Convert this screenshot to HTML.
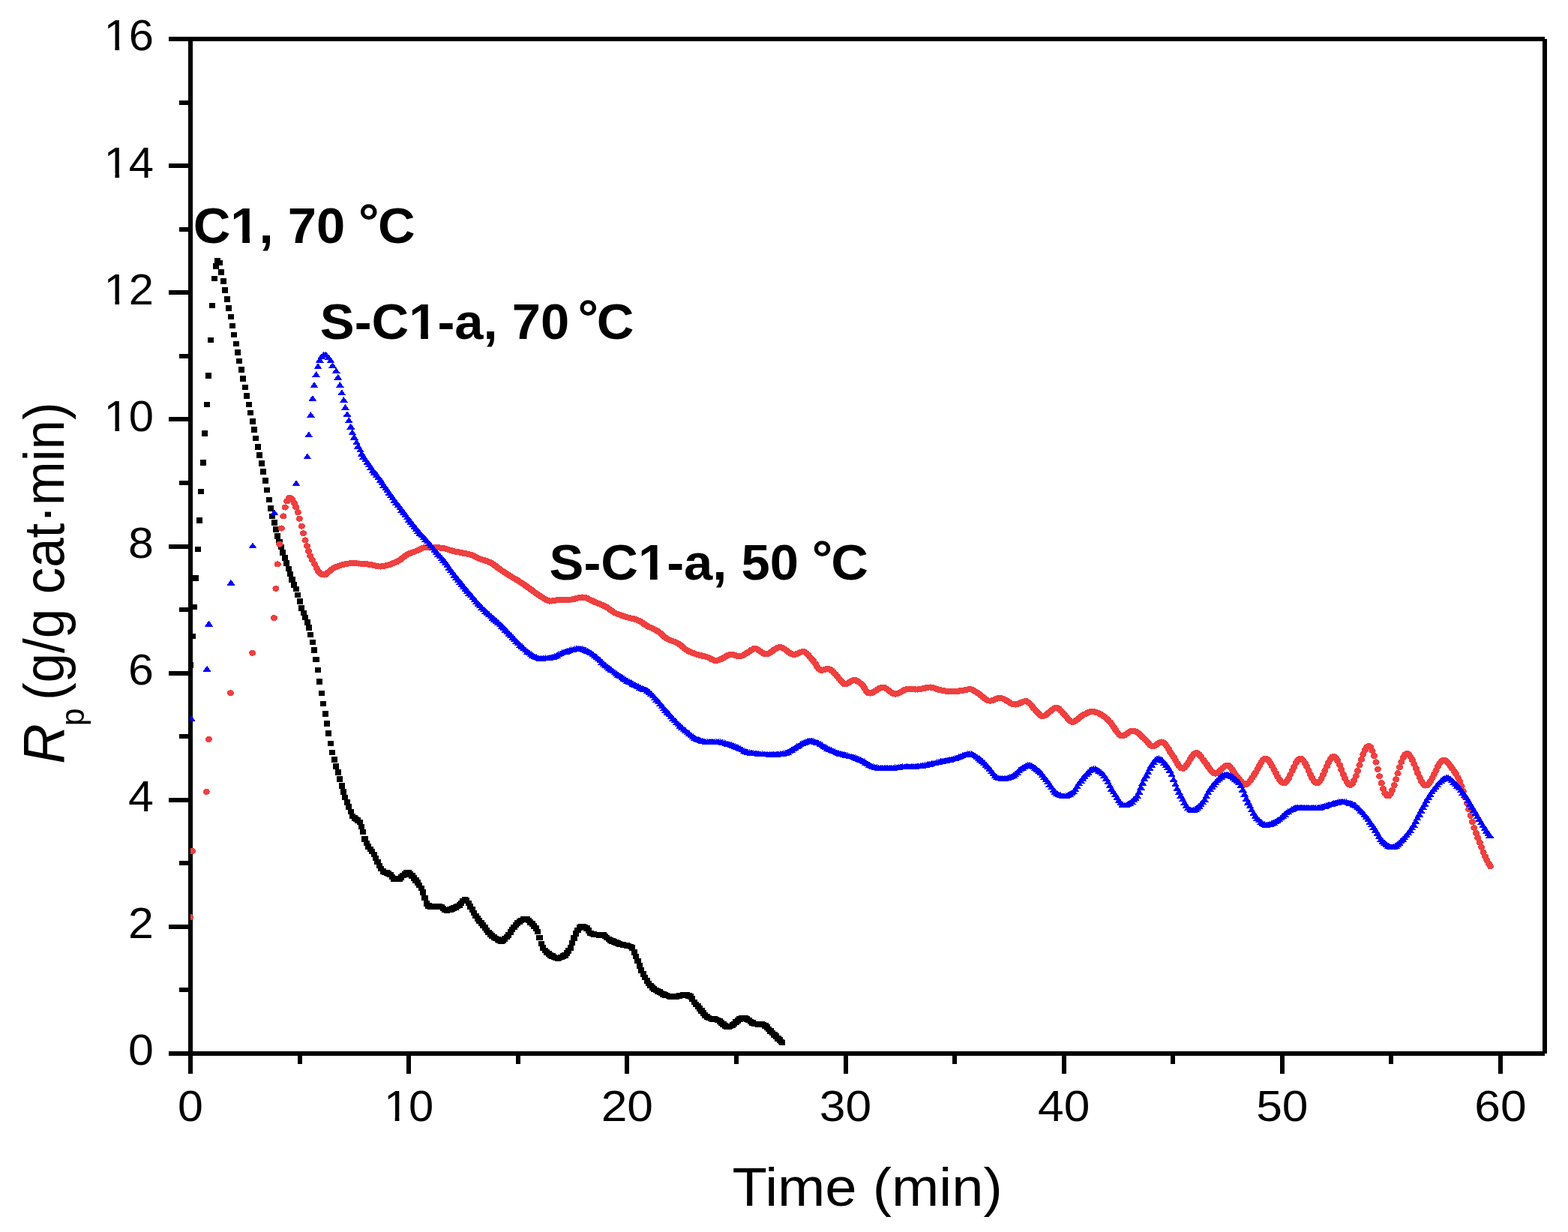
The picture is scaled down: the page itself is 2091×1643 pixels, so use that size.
<!DOCTYPE html>
<html><head><meta charset="utf-8"><title>Rp vs Time</title>
<style>
html,body{margin:0;padding:0;background:#fff;}
svg{display:block;}
text{font-family:"Liberation Sans",Arial,sans-serif;fill:#000;}
</style></head><body>
<svg xmlns="http://www.w3.org/2000/svg" width="2091" height="1643" viewBox="0 0 2091 1643">
<rect width="2091" height="1643" fill="#fff"/>
<path d="M225 52H2060M2060 52V1405M225 1405H2060M254 52V1432M225 1405H254M239 1320.4H254M225 1235.9H254M239 1151.3H254M225 1066.8H254M239 982.2H254M225 897.6H254M239 813.1H254M225 728.5H254M239 643.9H254M225 559.4H254M239 474.8H254M225 390.2H254M239 305.7H254M225 221.1H254M239 136.6H254M225 52H254M254 1405V1432M399.6 1405V1419M545.2 1405V1432M690.8 1405V1419M836.3 1405V1432M981.9 1405V1419M1127.5 1405V1432M1273.1 1405V1419M1418.7 1405V1432M1564.2 1405V1419M1709.8 1405V1432M1855.4 1405V1419M2001 1405V1432" stroke="#000" stroke-width="6" fill="none" shape-rendering="crispEdges"/>
<g font-size="58" fill="#fff">
<g transform="translate(171.1 1420.4) scale(1.05 1)"><text>0</text></g><g transform="translate(171.1 1251.3) scale(1.05 1)"><text>2</text></g><g transform="translate(171.1 1082.2) scale(1.05 1)"><text>4</text></g><g transform="translate(171.1 913) scale(1.05 1)"><text>6</text></g><g transform="translate(171.1 743.9) scale(1.05 1)"><text>8</text></g><g transform="translate(138.6 574.8) scale(1.03 1)"><text>10</text><rect x="3.2" y="-5.5" width="11.2" height="6.7"/><rect x="19.9" y="-5.5" width="10.9" height="6.7"/></g><g transform="translate(138.6 405.6) scale(1.03 1)"><text>12</text><rect x="3.2" y="-5.5" width="11.2" height="6.7"/><rect x="19.9" y="-5.5" width="10.9" height="6.7"/></g><g transform="translate(138.6 236.5) scale(1.03 1)"><text>14</text><rect x="3.2" y="-5.5" width="11.2" height="6.7"/><rect x="19.9" y="-5.5" width="10.9" height="6.7"/></g><g transform="translate(138.6 67.4) scale(1.03 1)"><text>16</text><rect x="3.2" y="-5.5" width="11.2" height="6.7"/><rect x="19.9" y="-5.5" width="10.9" height="6.7"/></g>
<g transform="translate(237.1 1495) scale(1.05 1)"><text>0</text></g><g transform="translate(511.9 1495) scale(1.03 1)"><text>10</text><rect x="3.2" y="-5.5" width="11.2" height="6.7"/><rect x="19.9" y="-5.5" width="10.9" height="6.7"/></g><g transform="translate(801.7 1495) scale(1.075 1)"><text>20</text></g><g transform="translate(1092.8 1495) scale(1.075 1)"><text>30</text></g><g transform="translate(1384 1495) scale(1.075 1)"><text>40</text></g><g transform="translate(1675.2 1495) scale(1.075 1)"><text>50</text></g><g transform="translate(1966.3 1495) scale(1.075 1)"><text>60</text></g>
</g>
<text transform="translate(976.6 1607.5) scale(1.048 1)" font-size="72.5">Time (min)</text>
<g transform="rotate(-90)">
<text transform="translate(-1016 85) scale(0.95 1)" font-size="78" font-style="italic" x="-3">R</text>
</g>
<text transform="translate(112 967.9) rotate(-90) scale(0.96 1)" font-size="44">p</text>
<text transform="translate(85 934) rotate(-90) scale(0.926 1)" font-size="76.5">(g/g cat·min)</text>
<defs><clipPath id="pa"><rect x="254" y="52" width="1806" height="1353"/></clipPath></defs>
<g clip-path="url(#pa)" shape-rendering="crispEdges">
<path d="M250.1 883.4h8.2v7.6h-8.2zM252.9 844.5h8.2v7.6h-8.2zM254.9 805.8h8.2v7.6h-8.2zM256.9 767.2h8.2v7.6h-8.2zM259.9 728.7h8.2v7.6h-8.2zM261.9 690.2h8.2v7.6h-8.2zM263.9 651.8h8.2v7.6h-8.2zM266.8 613.2h8.2v7.6h-8.2zM268.8 574.2h8.2v7.6h-8.2zM271.9 535.8h8.2v7.6h-8.2zM273.8 497h8.2v7.6h-8.2zM276.9 449.7h8.2v7.6h-8.2zM278.9 403.6h8.2v7.6h-8.2zM281.8 367.6h8.2v7.6h-8.2zM283.9 351.1h8.2v7.6h-8.2zM285.9 344.1h8.2v7.6h-8.2zM289.1 346.6h8.2v7.6h-8.2zM290.9 359.1h8.2v7.6h-8.2zM293.8 371.1h8.2v7.6h-8.2zM295.9 383h8.2v7.6h-8.2zM298.9 395.1h8.2v7.6h-8.2zM300.9 407.1h8.2v7.6h-8.2zM303.8 418.6h8.2v7.6h-8.2zM305.9 430.5h8.2v7.6h-8.2zM307.8 442.5h8.2v7.6h-8.2zM310.8 454.6h8.2v7.6h-8.2zM312.9 466.2h8.2v7.6h-8.2zM314.8 477.7h8.2v7.6h-8.2zM317.8 489h8.2v7.6h-8.2zM319.9 501.1h8.2v7.6h-8.2zM322.8 512.8h8.2v7.6h-8.2zM324.8 524h8.2v7.6h-8.2zM327.9 535.8h8.2v7.6h-8.2zM329.8 546.7h8.2v7.6h-8.2zM332.8 558h8.2v7.6h-8.2zM334.9 569.4h8.2v7.6h-8.2zM336.9 580.5h8.2v7.6h-8.2zM339.9 591.9h8.2v7.6h-8.2zM341.7 603h8.2v7.6h-8.2zM344.9 614h8.2v7.6h-8.2zM346.8 625.1h8.2v7.6h-8.2zM349.8 637.2h8.2v7.6h-8.2zM351.8 649.8h8.2v7.6h-8.2zM354.8 662.5h8.2v7.6h-8.2zM356.9 673.9h8.2v7.6h-8.2zM358.9 684.6h8.2v7.6h-8.2zM361.8 693.3h8.2v7.6h-8.2zM363.7 702.3h8.2v7.6h-8.2zM365.9 711.4h8.2v7.6h-8.2zM368.3 718.6h8.2v7.6h-8.2zM370.7 725.8h8.2v7.6h-8.2zM373.2 733h8.2v7.6h-8.2zM375.6 740.2h8.2v7.6h-8.2zM378 747.4h8.2v7.6h-8.2zM380.5 754.6h8.2v7.6h-8.2zM382.9 761.8h8.2v7.6h-8.2zM385.3 769h8.2v7.6h-8.2zM387.8 776.2h8.2v7.6h-8.2zM390.9 781.7h8.2v7.6h-8.2zM392.9 789.5h8.2v7.6h-8.2zM395.8 798h8.2v7.6h-8.2zM397.9 806.9h8.2v7.6h-8.2zM400.8 813.7h8.2v7.6h-8.2zM402.8 819.7h8.2v7.6h-8.2zM405.9 826h8.2v7.6h-8.2zM407.9 833h8.2v7.6h-8.2zM409.8 842.7h8.2v7.6h-8.2zM412.9 852.6h8.2v7.6h-8.2zM414.9 863.1h8.2v7.6h-8.2zM417.3 875.6h8.2v7.6h-8.2zM419.9 889.5h8.2v7.6h-8.2zM421.9 904.9h8.2v7.6h-8.2zM424.8 920.6h8.2v7.6h-8.2zM426.9 934.7h8.2v7.6h-8.2zM429.8 948h8.2v7.6h-8.2zM431.8 961.1h8.2v7.6h-8.2zM433.9 974.4h8.2v7.6h-8.2zM436.7 987.5h8.2v7.6h-8.2zM438.8 999.5h8.2v7.6h-8.2zM441.9 1009.4h8.2v7.6h-8.2zM443.7 1018.2h8.2v7.6h-8.2zM446.8 1026.4h8.2v7.6h-8.2zM448.8 1035.2h8.2v7.6h-8.2zM451.9 1044.1h8.2v7.6h-8.2zM453.9 1052.2h8.2v7.6h-8.2zM455.9 1059.6h8.2v7.6h-8.2zM458.9 1066.2h8.2v7.6h-8.2zM460.9 1072.2h8.2v7.6h-8.2zM463.9 1078.5h8.2v7.6h-8.2zM465.9 1084.6h8.2v7.6h-8.2zM468.9 1087.2h8.2v7.6h-8.2zM470.9 1088.8h8.2v7.6h-8.2zM472.9 1090.2h8.2v7.6h-8.2zM475.9 1092.7h8.2v7.6h-8.2zM477.9 1098.5h8.2v7.6h-8.2zM479.9 1105.7h8.2v7.6h-8.2zM482.3 1115h8.2v7.6h-8.2zM484.8 1120.8h8.2v7.6h-8.2zM487.2 1125.2h8.2v7.6h-8.2zM489.6 1128.7h8.2v7.6h-8.2zM492 1131.7h8.2v7.6h-8.2zM494.5 1135.6h8.2v7.6h-8.2zM496.9 1140.6h8.2v7.6h-8.2zM499.3 1145.7h8.2v7.6h-8.2zM501.7 1150.7h8.2v7.6h-8.2zM504.2 1154.7h8.2v7.6h-8.2zM506.6 1158.1h8.2v7.6h-8.2zM509 1159.8h8.2v7.6h-8.2zM511.5 1160.4h8.2v7.6h-8.2zM513.9 1161h8.2v7.6h-8.2zM516.3 1162.5h8.2v7.6h-8.2zM518.7 1165.6h8.2v7.6h-8.2zM521.2 1168h8.2v7.6h-8.2zM523.6 1168.4h8.2v7.6h-8.2zM526 1168.7h8.2v7.6h-8.2zM528.4 1168.2h8.2v7.6h-8.2zM530.9 1166h8.2v7.6h-8.2zM533.3 1163.6h8.2v7.6h-8.2zM535.7 1161.9h8.2v7.6h-8.2zM538.1 1160.4h8.2v7.6h-8.2zM540.6 1160.2h8.2v7.6h-8.2zM543 1161.9h8.2v7.6h-8.2zM545.4 1164.4h8.2v7.6h-8.2zM547.9 1167h8.2v7.6h-8.2zM550.3 1170h8.2v7.6h-8.2zM552.7 1173.2h8.2v7.6h-8.2zM555.1 1176.5h8.2v7.6h-8.2zM557.6 1180.5h8.2v7.6h-8.2zM560 1186.2h8.2v7.6h-8.2zM562.4 1193.8h8.2v7.6h-8.2zM564.8 1201.4h8.2v7.6h-8.2zM567.3 1203.9h8.2v7.6h-8.2zM569.7 1205.2h8.2v7.6h-8.2zM572.1 1205.4h8.2v7.6h-8.2zM574.6 1205.2h8.2v7.6h-8.2zM577 1205h8.2v7.6h-8.2zM579.4 1204.8h8.2v7.6h-8.2zM581.8 1204.7h8.2v7.6h-8.2zM584.3 1205.7h8.2v7.6h-8.2zM586.7 1207.8h8.2v7.6h-8.2zM589.1 1209.6h8.2v7.6h-8.2zM591.5 1209.9h8.2v7.6h-8.2zM594 1209.5h8.2v7.6h-8.2zM596.4 1208.9h8.2v7.6h-8.2zM598.8 1208.1h8.2v7.6h-8.2zM601.2 1207.2h8.2v7.6h-8.2zM603.7 1206.2h8.2v7.6h-8.2zM606.1 1204.7h8.2v7.6h-8.2zM608.5 1202.9h8.2v7.6h-8.2zM611 1200.7h8.2v7.6h-8.2zM613.4 1197.6h8.2v7.6h-8.2zM615.8 1195.6h8.2v7.6h-8.2zM618.2 1196.7h8.2v7.6h-8.2zM620.7 1200.5h8.2v7.6h-8.2zM623.1 1205.3h8.2v7.6h-8.2zM625.5 1209.4h8.2v7.6h-8.2zM627.9 1213.5h8.2v7.6h-8.2zM630.4 1217.5h8.2v7.6h-8.2zM632.8 1221.2h8.2v7.6h-8.2zM635.2 1224.3h8.2v7.6h-8.2zM637.7 1227.1h8.2v7.6h-8.2zM640.1 1230.1h8.2v7.6h-8.2zM642.5 1233.4h8.2v7.6h-8.2zM644.9 1236.8h8.2v7.6h-8.2zM647.4 1239.7h8.2v7.6h-8.2zM649.8 1242.2h8.2v7.6h-8.2zM652.2 1244.3h8.2v7.6h-8.2zM654.6 1246.1h8.2v7.6h-8.2zM657.1 1247.7h8.2v7.6h-8.2zM659.5 1249.2h8.2v7.6h-8.2zM661.9 1250.4h8.2v7.6h-8.2zM664.4 1250.9h8.2v7.6h-8.2zM666.8 1250.1h8.2v7.6h-8.2zM669.2 1248.1h8.2v7.6h-8.2zM671.6 1245.7h8.2v7.6h-8.2zM674.1 1242.9h8.2v7.6h-8.2zM676.5 1239.3h8.2v7.6h-8.2zM678.9 1235.6h8.2v7.6h-8.2zM681.3 1232.5h8.2v7.6h-8.2zM683.8 1229.5h8.2v7.6h-8.2zM686.2 1226.9h8.2v7.6h-8.2zM688.6 1225.1h8.2v7.6h-8.2zM691 1223.5h8.2v7.6h-8.2zM693.5 1222.2h8.2v7.6h-8.2zM695.9 1221.5h8.2v7.6h-8.2zM698.3 1222h8.2v7.6h-8.2zM700.8 1223.7h8.2v7.6h-8.2zM703.2 1225.9h8.2v7.6h-8.2zM705.6 1228.3h8.2v7.6h-8.2zM708 1231h8.2v7.6h-8.2zM710.5 1234.4h8.2v7.6h-8.2zM712.9 1238.8h8.2v7.6h-8.2zM715.3 1246.8h8.2v7.6h-8.2zM717.7 1254.5h8.2v7.6h-8.2zM720.2 1260.4h8.2v7.6h-8.2zM722.6 1263.8h8.2v7.6h-8.2zM725 1266.3h8.2v7.6h-8.2zM727.5 1268.3h8.2v7.6h-8.2zM729.9 1269.9h8.2v7.6h-8.2zM732.3 1271.4h8.2v7.6h-8.2zM734.7 1272.8h8.2v7.6h-8.2zM737.2 1273.8h8.2v7.6h-8.2zM739.6 1274h8.2v7.6h-8.2zM742 1273.5h8.2v7.6h-8.2zM744.4 1272.6h8.2v7.6h-8.2zM746.9 1271.4h8.2v7.6h-8.2zM749.3 1269.9h8.2v7.6h-8.2zM751.7 1267.4h8.2v7.6h-8.2zM754.2 1264.1h8.2v7.6h-8.2zM756.6 1260.1h8.2v7.6h-8.2zM759 1253.7h8.2v7.6h-8.2zM761.4 1247.2h8.2v7.6h-8.2zM763.9 1241h8.2v7.6h-8.2zM766.3 1236.8h8.2v7.6h-8.2zM768.7 1233.4h8.2v7.6h-8.2zM771.1 1231.6h8.2v7.6h-8.2zM773.6 1231.8h8.2v7.6h-8.2zM776 1232.7h8.2v7.6h-8.2zM778.4 1234.1h8.2v7.6h-8.2zM780.8 1237.2h8.2v7.6h-8.2zM783.3 1240.7h8.2v7.6h-8.2zM785.7 1241.7h8.2v7.6h-8.2zM788.1 1242.4h8.2v7.6h-8.2zM790.6 1242.7h8.2v7.6h-8.2zM793 1242.8h8.2v7.6h-8.2zM795.4 1242.9h8.2v7.6h-8.2zM797.8 1243h8.2v7.6h-8.2zM800.3 1243.3h8.2v7.6h-8.2zM802.7 1244.8h8.2v7.6h-8.2zM805.1 1246.8h8.2v7.6h-8.2zM807.5 1248.6h8.2v7.6h-8.2zM810 1249.9h8.2v7.6h-8.2zM812.4 1251.2h8.2v7.6h-8.2zM814.8 1252.4h8.2v7.6h-8.2zM817.3 1253.4h8.2v7.6h-8.2zM819.7 1254.4h8.2v7.6h-8.2zM822.1 1255.1h8.2v7.6h-8.2zM824.5 1255.7h8.2v7.6h-8.2zM827 1256.2h8.2v7.6h-8.2zM829.4 1256.7h8.2v7.6h-8.2zM831.8 1257.3h8.2v7.6h-8.2zM834.2 1257.8h8.2v7.6h-8.2zM836.7 1258.5h8.2v7.6h-8.2zM839.1 1260.4h8.2v7.6h-8.2zM841.5 1266h8.2v7.6h-8.2zM843.9 1271.7h8.2v7.6h-8.2zM846.4 1277.7h8.2v7.6h-8.2zM848.8 1284h8.2v7.6h-8.2zM851.2 1289.9h8.2v7.6h-8.2zM853.7 1295h8.2v7.6h-8.2zM856.1 1299.7h8.2v7.6h-8.2zM858.5 1304h8.2v7.6h-8.2zM860.9 1307.8h8.2v7.6h-8.2zM863.4 1310.7h8.2v7.6h-8.2zM865.8 1313.1h8.2v7.6h-8.2zM868.2 1315.1h8.2v7.6h-8.2zM870.6 1316.6h8.2v7.6h-8.2zM873.1 1317.9h8.2v7.6h-8.2zM875.5 1319.2h8.2v7.6h-8.2zM877.9 1320.6h8.2v7.6h-8.2zM880.4 1321.9h8.2v7.6h-8.2zM882.8 1323.1h8.2v7.6h-8.2zM885.2 1323.8h8.2v7.6h-8.2zM887.6 1324.5h8.2v7.6h-8.2zM890.1 1325h8.2v7.6h-8.2zM892.5 1325.3h8.2v7.6h-8.2zM894.9 1325.3h8.2v7.6h-8.2zM897.3 1325.1h8.2v7.6h-8.2zM899.8 1324.8h8.2v7.6h-8.2zM902.2 1324.4h8.2v7.6h-8.2zM904.6 1323.8h8.2v7.6h-8.2zM907.1 1322.9h8.2v7.6h-8.2zM909.5 1322.5h8.2v7.6h-8.2zM911.9 1322.9h8.2v7.6h-8.2zM914.3 1323.9h8.2v7.6h-8.2zM916.8 1325.3h8.2v7.6h-8.2zM919.2 1328.4h8.2v7.6h-8.2zM921.6 1332.7h8.2v7.6h-8.2zM924 1335.7h8.2v7.6h-8.2zM926.5 1338.3h8.2v7.6h-8.2zM928.9 1340.9h8.2v7.6h-8.2zM931.3 1344h8.2v7.6h-8.2zM933.7 1347.4h8.2v7.6h-8.2zM936.2 1350h8.2v7.6h-8.2zM938.6 1352h8.2v7.6h-8.2zM941 1353.5h8.2v7.6h-8.2zM943.5 1354.5h8.2v7.6h-8.2zM945.9 1355h8.2v7.6h-8.2zM948.3 1355.4h8.2v7.6h-8.2zM950.7 1355.8h8.2v7.6h-8.2zM953.2 1356.6h8.2v7.6h-8.2zM955.6 1358.3h8.2v7.6h-8.2zM958 1360.3h8.2v7.6h-8.2zM960.4 1362.2h8.2v7.6h-8.2zM962.9 1364.4h8.2v7.6h-8.2zM965.3 1365.7h8.2v7.6h-8.2zM967.7 1365.5h8.2v7.6h-8.2zM970.2 1364.5h8.2v7.6h-8.2zM972.6 1363.1h8.2v7.6h-8.2zM975 1361.5h8.2v7.6h-8.2zM977.4 1359.4h8.2v7.6h-8.2zM979.9 1357h8.2v7.6h-8.2zM982.3 1355.3h8.2v7.6h-8.2zM984.7 1354.2h8.2v7.6h-8.2zM987.1 1353.5h8.2v7.6h-8.2zM989.6 1353.6h8.2v7.6h-8.2zM992 1355h8.2v7.6h-8.2zM994.4 1356.8h8.2v7.6h-8.2zM996.9 1358.5h8.2v7.6h-8.2zM999.3 1360.3h8.2v7.6h-8.2zM1001.7 1361.5h8.2v7.6h-8.2zM1004.1 1361.8h8.2v7.6h-8.2zM1006.6 1362h8.2v7.6h-8.2zM1009 1362.1h8.2v7.6h-8.2zM1011.4 1362.3h8.2v7.6h-8.2zM1013.8 1362.7h8.2v7.6h-8.2zM1016.3 1364.2h8.2v7.6h-8.2zM1018.7 1366.4h8.2v7.6h-8.2zM1021.1 1368.6h8.2v7.6h-8.2zM1023.5 1371h8.2v7.6h-8.2zM1026 1373.5h8.2v7.6h-8.2zM1028.4 1376h8.2v7.6h-8.2zM1030.8 1378.4h8.2v7.6h-8.2zM1033.3 1380.9h8.2v7.6h-8.2zM1035.7 1383.3h8.2v7.6h-8.2zM1038.1 1385.7h8.2v7.6h-8.2zM1039 1386.6h8.2v7.6h-8.2z" fill="#000"/>
<path d="M248.9 1223a4.6 4.1 0 1 0 9.2 0a4.6 4.1 0 1 0 -9.2 0zM252 1135a4.6 4.1 0 1 0 9.2 0a4.6 4.1 0 1 0 -9.2 0zM270.6 1055.9a4.6 4.1 0 1 0 9.2 0a4.6 4.1 0 1 0 -9.2 0zM273.7 985.8a4.6 4.1 0 1 0 9.2 0a4.6 4.1 0 1 0 -9.2 0zM302.7 924.3a4.6 4.1 0 1 0 9.2 0a4.6 4.1 0 1 0 -9.2 0zM332 870.7a4.6 4.1 0 1 0 9.2 0a4.6 4.1 0 1 0 -9.2 0zM360.8 824.2a4.6 4.1 0 1 0 9.2 0a4.6 4.1 0 1 0 -9.2 0zM363.4 784.9a4.6 4.1 0 1 0 9.2 0a4.6 4.1 0 1 0 -9.2 0zM365.6 752.4a4.6 4.1 0 1 0 9.2 0a4.6 4.1 0 1 0 -9.2 0zM368.1 725.6a4.6 4.1 0 1 0 9.2 0a4.6 4.1 0 1 0 -9.2 0zM370.7 704.5a4.6 4.1 0 1 0 9.2 0a4.6 4.1 0 1 0 -9.2 0zM373.2 688.4a4.6 4.1 0 1 0 9.2 0a4.6 4.1 0 1 0 -9.2 0zM375.6 676.5a4.6 4.1 0 1 0 9.2 0a4.6 4.1 0 1 0 -9.2 0zM378.2 668.3a4.6 4.1 0 1 0 9.2 0a4.6 4.1 0 1 0 -9.2 0zM380.5 664.2a4.6 4.1 0 1 0 9.2 0a4.6 4.1 0 1 0 -9.2 0zM382.8 664.2a4.6 4.1 0 1 0 9.2 0a4.6 4.1 0 1 0 -9.2 0zM385 666.5a4.6 4.1 0 1 0 9.2 0a4.6 4.1 0 1 0 -9.2 0zM387.8 671a4.6 4.1 0 1 0 9.2 0a4.6 4.1 0 1 0 -9.2 0zM390.1 676.5a4.6 4.1 0 1 0 9.2 0a4.6 4.1 0 1 0 -9.2 0zM392.8 683.4a4.6 4.1 0 1 0 9.2 0a4.6 4.1 0 1 0 -9.2 0zM394.8 691.6a4.6 4.1 0 1 0 9.2 0a4.6 4.1 0 1 0 -9.2 0zM397.8 701.6a4.6 4.1 0 1 0 9.2 0a4.6 4.1 0 1 0 -9.2 0zM399.9 711.2a4.6 4.1 0 1 0 9.2 0a4.6 4.1 0 1 0 -9.2 0zM402.4 720.4a4.6 4.1 0 1 0 9.2 0a4.6 4.1 0 1 0 -9.2 0zM404.7 728.1a4.6 4.1 0 1 0 9.2 0a4.6 4.1 0 1 0 -9.2 0zM407 735a4.6 4.1 0 1 0 9.2 0a4.6 4.1 0 1 0 -9.2 0zM409.2 741.4a4.6 4.1 0 1 0 9.2 0a4.6 4.1 0 1 0 -9.2 0zM412 746.8a4.6 4.1 0 1 0 9.2 0a4.6 4.1 0 1 0 -9.2 0zM414.7 752.3a4.6 4.1 0 1 0 9.2 0a4.6 4.1 0 1 0 -9.2 0zM417.5 757.8a4.6 4.1 0 1 0 9.2 0a4.6 4.1 0 1 0 -9.2 0zM420.2 762.4a4.6 4.1 0 1 0 9.2 0a4.6 4.1 0 1 0 -9.2 0zM422.6 764.8a4.6 4.1 0 1 0 9.2 0a4.6 4.1 0 1 0 -9.2 0zM425.1 766.1a4.6 4.1 0 1 0 9.2 0a4.6 4.1 0 1 0 -9.2 0zM427.5 766.5a4.6 4.1 0 1 0 9.2 0a4.6 4.1 0 1 0 -9.2 0zM429.9 765.9a4.6 4.1 0 1 0 9.2 0a4.6 4.1 0 1 0 -9.2 0zM432.3 763.8a4.6 4.1 0 1 0 9.2 0a4.6 4.1 0 1 0 -9.2 0zM434.8 761.8a4.6 4.1 0 1 0 9.2 0a4.6 4.1 0 1 0 -9.2 0zM437.2 759.7a4.6 4.1 0 1 0 9.2 0a4.6 4.1 0 1 0 -9.2 0zM439.6 758a4.6 4.1 0 1 0 9.2 0a4.6 4.1 0 1 0 -9.2 0zM442 756.7a4.6 4.1 0 1 0 9.2 0a4.6 4.1 0 1 0 -9.2 0zM444.5 755.7a4.6 4.1 0 1 0 9.2 0a4.6 4.1 0 1 0 -9.2 0zM446.9 754.8a4.6 4.1 0 1 0 9.2 0a4.6 4.1 0 1 0 -9.2 0zM449.3 754a4.6 4.1 0 1 0 9.2 0a4.6 4.1 0 1 0 -9.2 0zM451.8 753.3a4.6 4.1 0 1 0 9.2 0a4.6 4.1 0 1 0 -9.2 0zM454.2 752.7a4.6 4.1 0 1 0 9.2 0a4.6 4.1 0 1 0 -9.2 0zM456.6 752.1a4.6 4.1 0 1 0 9.2 0a4.6 4.1 0 1 0 -9.2 0zM459 751.6a4.6 4.1 0 1 0 9.2 0a4.6 4.1 0 1 0 -9.2 0zM461.5 751.4a4.6 4.1 0 1 0 9.2 0a4.6 4.1 0 1 0 -9.2 0zM463.9 751.4a4.6 4.1 0 1 0 9.2 0a4.6 4.1 0 1 0 -9.2 0zM466.3 751.4a4.6 4.1 0 1 0 9.2 0a4.6 4.1 0 1 0 -9.2 0zM468.7 751.4a4.6 4.1 0 1 0 9.2 0a4.6 4.1 0 1 0 -9.2 0zM471.2 751.4a4.6 4.1 0 1 0 9.2 0a4.6 4.1 0 1 0 -9.2 0zM473.6 751.5a4.6 4.1 0 1 0 9.2 0a4.6 4.1 0 1 0 -9.2 0zM476 751.6a4.6 4.1 0 1 0 9.2 0a4.6 4.1 0 1 0 -9.2 0zM478.4 751.7a4.6 4.1 0 1 0 9.2 0a4.6 4.1 0 1 0 -9.2 0zM480.9 751.9a4.6 4.1 0 1 0 9.2 0a4.6 4.1 0 1 0 -9.2 0zM483.3 752.2a4.6 4.1 0 1 0 9.2 0a4.6 4.1 0 1 0 -9.2 0zM485.7 752.5a4.6 4.1 0 1 0 9.2 0a4.6 4.1 0 1 0 -9.2 0zM488.2 752.9a4.6 4.1 0 1 0 9.2 0a4.6 4.1 0 1 0 -9.2 0zM490.6 753.3a4.6 4.1 0 1 0 9.2 0a4.6 4.1 0 1 0 -9.2 0zM493 753.8a4.6 4.1 0 1 0 9.2 0a4.6 4.1 0 1 0 -9.2 0zM495.4 754.4a4.6 4.1 0 1 0 9.2 0a4.6 4.1 0 1 0 -9.2 0zM497.9 755a4.6 4.1 0 1 0 9.2 0a4.6 4.1 0 1 0 -9.2 0zM500.3 755.4a4.6 4.1 0 1 0 9.2 0a4.6 4.1 0 1 0 -9.2 0zM502.7 755.5a4.6 4.1 0 1 0 9.2 0a4.6 4.1 0 1 0 -9.2 0zM505.1 755.2a4.6 4.1 0 1 0 9.2 0a4.6 4.1 0 1 0 -9.2 0zM507.6 754.8a4.6 4.1 0 1 0 9.2 0a4.6 4.1 0 1 0 -9.2 0zM510 754.2a4.6 4.1 0 1 0 9.2 0a4.6 4.1 0 1 0 -9.2 0zM512.4 753.6a4.6 4.1 0 1 0 9.2 0a4.6 4.1 0 1 0 -9.2 0zM514.9 752.9a4.6 4.1 0 1 0 9.2 0a4.6 4.1 0 1 0 -9.2 0zM517.3 752.1a4.6 4.1 0 1 0 9.2 0a4.6 4.1 0 1 0 -9.2 0zM519.7 751.2a4.6 4.1 0 1 0 9.2 0a4.6 4.1 0 1 0 -9.2 0zM522.1 750.2a4.6 4.1 0 1 0 9.2 0a4.6 4.1 0 1 0 -9.2 0zM524.6 749.1a4.6 4.1 0 1 0 9.2 0a4.6 4.1 0 1 0 -9.2 0zM527 747.8a4.6 4.1 0 1 0 9.2 0a4.6 4.1 0 1 0 -9.2 0zM529.4 746.2a4.6 4.1 0 1 0 9.2 0a4.6 4.1 0 1 0 -9.2 0zM531.8 744.4a4.6 4.1 0 1 0 9.2 0a4.6 4.1 0 1 0 -9.2 0zM534.3 742.4a4.6 4.1 0 1 0 9.2 0a4.6 4.1 0 1 0 -9.2 0zM536.7 740.7a4.6 4.1 0 1 0 9.2 0a4.6 4.1 0 1 0 -9.2 0zM539.1 739.3a4.6 4.1 0 1 0 9.2 0a4.6 4.1 0 1 0 -9.2 0zM541.6 738.2a4.6 4.1 0 1 0 9.2 0a4.6 4.1 0 1 0 -9.2 0zM544 737.3a4.6 4.1 0 1 0 9.2 0a4.6 4.1 0 1 0 -9.2 0zM546.4 736.4a4.6 4.1 0 1 0 9.2 0a4.6 4.1 0 1 0 -9.2 0zM548.8 735.5a4.6 4.1 0 1 0 9.2 0a4.6 4.1 0 1 0 -9.2 0zM551.3 734.5a4.6 4.1 0 1 0 9.2 0a4.6 4.1 0 1 0 -9.2 0zM553.7 733.3a4.6 4.1 0 1 0 9.2 0a4.6 4.1 0 1 0 -9.2 0zM556.1 732.1a4.6 4.1 0 1 0 9.2 0a4.6 4.1 0 1 0 -9.2 0zM558.5 731a4.6 4.1 0 1 0 9.2 0a4.6 4.1 0 1 0 -9.2 0zM561 730.2a4.6 4.1 0 1 0 9.2 0a4.6 4.1 0 1 0 -9.2 0zM563.4 730a4.6 4.1 0 1 0 9.2 0a4.6 4.1 0 1 0 -9.2 0zM565.8 730a4.6 4.1 0 1 0 9.2 0a4.6 4.1 0 1 0 -9.2 0zM568.2 730a4.6 4.1 0 1 0 9.2 0a4.6 4.1 0 1 0 -9.2 0zM570.7 730a4.6 4.1 0 1 0 9.2 0a4.6 4.1 0 1 0 -9.2 0zM573.1 730a4.6 4.1 0 1 0 9.2 0a4.6 4.1 0 1 0 -9.2 0zM575.5 730a4.6 4.1 0 1 0 9.2 0a4.6 4.1 0 1 0 -9.2 0zM578 730.1a4.6 4.1 0 1 0 9.2 0a4.6 4.1 0 1 0 -9.2 0zM580.4 730.3a4.6 4.1 0 1 0 9.2 0a4.6 4.1 0 1 0 -9.2 0zM582.8 730.6a4.6 4.1 0 1 0 9.2 0a4.6 4.1 0 1 0 -9.2 0zM585.2 730.9a4.6 4.1 0 1 0 9.2 0a4.6 4.1 0 1 0 -9.2 0zM587.7 731.3a4.6 4.1 0 1 0 9.2 0a4.6 4.1 0 1 0 -9.2 0zM590.1 731.9a4.6 4.1 0 1 0 9.2 0a4.6 4.1 0 1 0 -9.2 0zM592.5 732.6a4.6 4.1 0 1 0 9.2 0a4.6 4.1 0 1 0 -9.2 0zM594.9 733.5a4.6 4.1 0 1 0 9.2 0a4.6 4.1 0 1 0 -9.2 0zM597.4 734.3a4.6 4.1 0 1 0 9.2 0a4.6 4.1 0 1 0 -9.2 0zM599.8 734.9a4.6 4.1 0 1 0 9.2 0a4.6 4.1 0 1 0 -9.2 0zM602.2 735.5a4.6 4.1 0 1 0 9.2 0a4.6 4.1 0 1 0 -9.2 0zM604.7 736a4.6 4.1 0 1 0 9.2 0a4.6 4.1 0 1 0 -9.2 0zM607.1 736.4a4.6 4.1 0 1 0 9.2 0a4.6 4.1 0 1 0 -9.2 0zM609.5 736.9a4.6 4.1 0 1 0 9.2 0a4.6 4.1 0 1 0 -9.2 0zM611.9 737.4a4.6 4.1 0 1 0 9.2 0a4.6 4.1 0 1 0 -9.2 0zM614.4 737.9a4.6 4.1 0 1 0 9.2 0a4.6 4.1 0 1 0 -9.2 0zM616.8 738.4a4.6 4.1 0 1 0 9.2 0a4.6 4.1 0 1 0 -9.2 0zM619.2 738.9a4.6 4.1 0 1 0 9.2 0a4.6 4.1 0 1 0 -9.2 0zM621.6 739.5a4.6 4.1 0 1 0 9.2 0a4.6 4.1 0 1 0 -9.2 0zM624.1 740.1a4.6 4.1 0 1 0 9.2 0a4.6 4.1 0 1 0 -9.2 0zM626.5 741.1a4.6 4.1 0 1 0 9.2 0a4.6 4.1 0 1 0 -9.2 0zM628.9 742.2a4.6 4.1 0 1 0 9.2 0a4.6 4.1 0 1 0 -9.2 0zM631.3 743.4a4.6 4.1 0 1 0 9.2 0a4.6 4.1 0 1 0 -9.2 0zM633.8 744.6a4.6 4.1 0 1 0 9.2 0a4.6 4.1 0 1 0 -9.2 0zM636.2 745.6a4.6 4.1 0 1 0 9.2 0a4.6 4.1 0 1 0 -9.2 0zM638.6 746.5a4.6 4.1 0 1 0 9.2 0a4.6 4.1 0 1 0 -9.2 0zM641.1 747.2a4.6 4.1 0 1 0 9.2 0a4.6 4.1 0 1 0 -9.2 0zM643.5 747.9a4.6 4.1 0 1 0 9.2 0a4.6 4.1 0 1 0 -9.2 0zM645.9 748.7a4.6 4.1 0 1 0 9.2 0a4.6 4.1 0 1 0 -9.2 0zM648.3 749.7a4.6 4.1 0 1 0 9.2 0a4.6 4.1 0 1 0 -9.2 0zM650.8 750.9a4.6 4.1 0 1 0 9.2 0a4.6 4.1 0 1 0 -9.2 0zM653.2 752.5a4.6 4.1 0 1 0 9.2 0a4.6 4.1 0 1 0 -9.2 0zM655.6 754.3a4.6 4.1 0 1 0 9.2 0a4.6 4.1 0 1 0 -9.2 0zM658 756.2a4.6 4.1 0 1 0 9.2 0a4.6 4.1 0 1 0 -9.2 0zM660.5 758.1a4.6 4.1 0 1 0 9.2 0a4.6 4.1 0 1 0 -9.2 0zM662.9 759.8a4.6 4.1 0 1 0 9.2 0a4.6 4.1 0 1 0 -9.2 0zM665.3 761.4a4.6 4.1 0 1 0 9.2 0a4.6 4.1 0 1 0 -9.2 0zM667.8 763a4.6 4.1 0 1 0 9.2 0a4.6 4.1 0 1 0 -9.2 0zM670.2 764.6a4.6 4.1 0 1 0 9.2 0a4.6 4.1 0 1 0 -9.2 0zM672.6 766.2a4.6 4.1 0 1 0 9.2 0a4.6 4.1 0 1 0 -9.2 0zM675 767.7a4.6 4.1 0 1 0 9.2 0a4.6 4.1 0 1 0 -9.2 0zM677.5 769.2a4.6 4.1 0 1 0 9.2 0a4.6 4.1 0 1 0 -9.2 0zM679.9 770.6a4.6 4.1 0 1 0 9.2 0a4.6 4.1 0 1 0 -9.2 0zM682.3 772a4.6 4.1 0 1 0 9.2 0a4.6 4.1 0 1 0 -9.2 0zM684.7 773.4a4.6 4.1 0 1 0 9.2 0a4.6 4.1 0 1 0 -9.2 0zM687.2 774.9a4.6 4.1 0 1 0 9.2 0a4.6 4.1 0 1 0 -9.2 0zM689.6 776.4a4.6 4.1 0 1 0 9.2 0a4.6 4.1 0 1 0 -9.2 0zM692 778.1a4.6 4.1 0 1 0 9.2 0a4.6 4.1 0 1 0 -9.2 0zM694.5 779.7a4.6 4.1 0 1 0 9.2 0a4.6 4.1 0 1 0 -9.2 0zM696.9 781.5a4.6 4.1 0 1 0 9.2 0a4.6 4.1 0 1 0 -9.2 0zM699.3 783.2a4.6 4.1 0 1 0 9.2 0a4.6 4.1 0 1 0 -9.2 0zM701.7 785a4.6 4.1 0 1 0 9.2 0a4.6 4.1 0 1 0 -9.2 0zM704.2 786.7a4.6 4.1 0 1 0 9.2 0a4.6 4.1 0 1 0 -9.2 0zM706.6 788.5a4.6 4.1 0 1 0 9.2 0a4.6 4.1 0 1 0 -9.2 0zM709 790.3a4.6 4.1 0 1 0 9.2 0a4.6 4.1 0 1 0 -9.2 0zM711.4 792a4.6 4.1 0 1 0 9.2 0a4.6 4.1 0 1 0 -9.2 0zM713.9 793.6a4.6 4.1 0 1 0 9.2 0a4.6 4.1 0 1 0 -9.2 0zM716.3 795.1a4.6 4.1 0 1 0 9.2 0a4.6 4.1 0 1 0 -9.2 0zM718.7 796.7a4.6 4.1 0 1 0 9.2 0a4.6 4.1 0 1 0 -9.2 0zM721.1 798.3a4.6 4.1 0 1 0 9.2 0a4.6 4.1 0 1 0 -9.2 0zM723.6 799.8a4.6 4.1 0 1 0 9.2 0a4.6 4.1 0 1 0 -9.2 0zM726 800.9a4.6 4.1 0 1 0 9.2 0a4.6 4.1 0 1 0 -9.2 0zM728.4 801.5a4.6 4.1 0 1 0 9.2 0a4.6 4.1 0 1 0 -9.2 0zM730.9 801.5a4.6 4.1 0 1 0 9.2 0a4.6 4.1 0 1 0 -9.2 0zM733.3 801.2a4.6 4.1 0 1 0 9.2 0a4.6 4.1 0 1 0 -9.2 0zM735.7 800.8a4.6 4.1 0 1 0 9.2 0a4.6 4.1 0 1 0 -9.2 0zM738.1 800.3a4.6 4.1 0 1 0 9.2 0a4.6 4.1 0 1 0 -9.2 0zM740.6 800a4.6 4.1 0 1 0 9.2 0a4.6 4.1 0 1 0 -9.2 0zM743 799.8a4.6 4.1 0 1 0 9.2 0a4.6 4.1 0 1 0 -9.2 0zM745.4 799.7a4.6 4.1 0 1 0 9.2 0a4.6 4.1 0 1 0 -9.2 0zM747.8 799.7a4.6 4.1 0 1 0 9.2 0a4.6 4.1 0 1 0 -9.2 0zM750.3 799.7a4.6 4.1 0 1 0 9.2 0a4.6 4.1 0 1 0 -9.2 0zM752.7 799.7a4.6 4.1 0 1 0 9.2 0a4.6 4.1 0 1 0 -9.2 0zM755.1 799.6a4.6 4.1 0 1 0 9.2 0a4.6 4.1 0 1 0 -9.2 0zM757.6 799.5a4.6 4.1 0 1 0 9.2 0a4.6 4.1 0 1 0 -9.2 0zM760 799.1a4.6 4.1 0 1 0 9.2 0a4.6 4.1 0 1 0 -9.2 0zM762.4 798.5a4.6 4.1 0 1 0 9.2 0a4.6 4.1 0 1 0 -9.2 0zM764.8 797.8a4.6 4.1 0 1 0 9.2 0a4.6 4.1 0 1 0 -9.2 0zM767.3 797.2a4.6 4.1 0 1 0 9.2 0a4.6 4.1 0 1 0 -9.2 0zM769.7 796.7a4.6 4.1 0 1 0 9.2 0a4.6 4.1 0 1 0 -9.2 0zM772.1 796.5a4.6 4.1 0 1 0 9.2 0a4.6 4.1 0 1 0 -9.2 0zM774.5 796.7a4.6 4.1 0 1 0 9.2 0a4.6 4.1 0 1 0 -9.2 0zM777 797.4a4.6 4.1 0 1 0 9.2 0a4.6 4.1 0 1 0 -9.2 0zM779.4 798.3a4.6 4.1 0 1 0 9.2 0a4.6 4.1 0 1 0 -9.2 0zM781.8 799.5a4.6 4.1 0 1 0 9.2 0a4.6 4.1 0 1 0 -9.2 0zM784.2 800.7a4.6 4.1 0 1 0 9.2 0a4.6 4.1 0 1 0 -9.2 0zM786.7 801.9a4.6 4.1 0 1 0 9.2 0a4.6 4.1 0 1 0 -9.2 0zM789.1 803a4.6 4.1 0 1 0 9.2 0a4.6 4.1 0 1 0 -9.2 0zM791.5 804a4.6 4.1 0 1 0 9.2 0a4.6 4.1 0 1 0 -9.2 0zM794 805a4.6 4.1 0 1 0 9.2 0a4.6 4.1 0 1 0 -9.2 0zM796.4 806a4.6 4.1 0 1 0 9.2 0a4.6 4.1 0 1 0 -9.2 0zM798.8 807a4.6 4.1 0 1 0 9.2 0a4.6 4.1 0 1 0 -9.2 0zM801.2 808.2a4.6 4.1 0 1 0 9.2 0a4.6 4.1 0 1 0 -9.2 0zM803.7 809.4a4.6 4.1 0 1 0 9.2 0a4.6 4.1 0 1 0 -9.2 0zM806.1 810.9a4.6 4.1 0 1 0 9.2 0a4.6 4.1 0 1 0 -9.2 0zM808.5 812.7a4.6 4.1 0 1 0 9.2 0a4.6 4.1 0 1 0 -9.2 0zM810.9 814.4a4.6 4.1 0 1 0 9.2 0a4.6 4.1 0 1 0 -9.2 0zM813.4 816.1a4.6 4.1 0 1 0 9.2 0a4.6 4.1 0 1 0 -9.2 0zM815.8 817.5a4.6 4.1 0 1 0 9.2 0a4.6 4.1 0 1 0 -9.2 0zM818.2 818.6a4.6 4.1 0 1 0 9.2 0a4.6 4.1 0 1 0 -9.2 0zM820.7 819.5a4.6 4.1 0 1 0 9.2 0a4.6 4.1 0 1 0 -9.2 0zM823.1 820.4a4.6 4.1 0 1 0 9.2 0a4.6 4.1 0 1 0 -9.2 0zM825.5 821.3a4.6 4.1 0 1 0 9.2 0a4.6 4.1 0 1 0 -9.2 0zM827.9 822a4.6 4.1 0 1 0 9.2 0a4.6 4.1 0 1 0 -9.2 0zM830.4 822.8a4.6 4.1 0 1 0 9.2 0a4.6 4.1 0 1 0 -9.2 0zM832.8 823.5a4.6 4.1 0 1 0 9.2 0a4.6 4.1 0 1 0 -9.2 0zM835.2 824a4.6 4.1 0 1 0 9.2 0a4.6 4.1 0 1 0 -9.2 0zM837.6 824.6a4.6 4.1 0 1 0 9.2 0a4.6 4.1 0 1 0 -9.2 0zM840.1 825.2a4.6 4.1 0 1 0 9.2 0a4.6 4.1 0 1 0 -9.2 0zM842.5 825.8a4.6 4.1 0 1 0 9.2 0a4.6 4.1 0 1 0 -9.2 0zM844.9 826.6a4.6 4.1 0 1 0 9.2 0a4.6 4.1 0 1 0 -9.2 0zM847.4 827.7a4.6 4.1 0 1 0 9.2 0a4.6 4.1 0 1 0 -9.2 0zM849.8 829a4.6 4.1 0 1 0 9.2 0a4.6 4.1 0 1 0 -9.2 0zM852.2 830.6a4.6 4.1 0 1 0 9.2 0a4.6 4.1 0 1 0 -9.2 0zM854.6 832.3a4.6 4.1 0 1 0 9.2 0a4.6 4.1 0 1 0 -9.2 0zM857.1 833.9a4.6 4.1 0 1 0 9.2 0a4.6 4.1 0 1 0 -9.2 0zM859.5 835.3a4.6 4.1 0 1 0 9.2 0a4.6 4.1 0 1 0 -9.2 0zM861.9 836.5a4.6 4.1 0 1 0 9.2 0a4.6 4.1 0 1 0 -9.2 0zM864.3 837.6a4.6 4.1 0 1 0 9.2 0a4.6 4.1 0 1 0 -9.2 0zM866.8 838.7a4.6 4.1 0 1 0 9.2 0a4.6 4.1 0 1 0 -9.2 0zM869.2 839.9a4.6 4.1 0 1 0 9.2 0a4.6 4.1 0 1 0 -9.2 0zM871.6 841.3a4.6 4.1 0 1 0 9.2 0a4.6 4.1 0 1 0 -9.2 0zM874 842.9a4.6 4.1 0 1 0 9.2 0a4.6 4.1 0 1 0 -9.2 0zM876.5 844.9a4.6 4.1 0 1 0 9.2 0a4.6 4.1 0 1 0 -9.2 0zM878.9 847.1a4.6 4.1 0 1 0 9.2 0a4.6 4.1 0 1 0 -9.2 0zM881.3 849.2a4.6 4.1 0 1 0 9.2 0a4.6 4.1 0 1 0 -9.2 0zM883.8 851.1a4.6 4.1 0 1 0 9.2 0a4.6 4.1 0 1 0 -9.2 0zM886.2 852.6a4.6 4.1 0 1 0 9.2 0a4.6 4.1 0 1 0 -9.2 0zM888.6 853.7a4.6 4.1 0 1 0 9.2 0a4.6 4.1 0 1 0 -9.2 0zM891 854.6a4.6 4.1 0 1 0 9.2 0a4.6 4.1 0 1 0 -9.2 0zM893.5 855.4a4.6 4.1 0 1 0 9.2 0a4.6 4.1 0 1 0 -9.2 0zM895.9 856.3a4.6 4.1 0 1 0 9.2 0a4.6 4.1 0 1 0 -9.2 0zM898.3 857.4a4.6 4.1 0 1 0 9.2 0a4.6 4.1 0 1 0 -9.2 0zM900.7 858.8a4.6 4.1 0 1 0 9.2 0a4.6 4.1 0 1 0 -9.2 0zM903.2 860.6a4.6 4.1 0 1 0 9.2 0a4.6 4.1 0 1 0 -9.2 0zM905.6 862.7a4.6 4.1 0 1 0 9.2 0a4.6 4.1 0 1 0 -9.2 0zM908 864.7a4.6 4.1 0 1 0 9.2 0a4.6 4.1 0 1 0 -9.2 0zM910.5 866.6a4.6 4.1 0 1 0 9.2 0a4.6 4.1 0 1 0 -9.2 0zM912.9 868a4.6 4.1 0 1 0 9.2 0a4.6 4.1 0 1 0 -9.2 0zM915.3 869.2a4.6 4.1 0 1 0 9.2 0a4.6 4.1 0 1 0 -9.2 0zM917.7 870.2a4.6 4.1 0 1 0 9.2 0a4.6 4.1 0 1 0 -9.2 0zM920.2 871.1a4.6 4.1 0 1 0 9.2 0a4.6 4.1 0 1 0 -9.2 0zM922.6 872a4.6 4.1 0 1 0 9.2 0a4.6 4.1 0 1 0 -9.2 0zM925 872.8a4.6 4.1 0 1 0 9.2 0a4.6 4.1 0 1 0 -9.2 0zM927.4 873.5a4.6 4.1 0 1 0 9.2 0a4.6 4.1 0 1 0 -9.2 0zM929.9 874.1a4.6 4.1 0 1 0 9.2 0a4.6 4.1 0 1 0 -9.2 0zM932.3 874.7a4.6 4.1 0 1 0 9.2 0a4.6 4.1 0 1 0 -9.2 0zM934.7 875.2a4.6 4.1 0 1 0 9.2 0a4.6 4.1 0 1 0 -9.2 0zM937.2 875.8a4.6 4.1 0 1 0 9.2 0a4.6 4.1 0 1 0 -9.2 0zM939.6 876.6a4.6 4.1 0 1 0 9.2 0a4.6 4.1 0 1 0 -9.2 0zM942 877.8a4.6 4.1 0 1 0 9.2 0a4.6 4.1 0 1 0 -9.2 0zM944.4 879.2a4.6 4.1 0 1 0 9.2 0a4.6 4.1 0 1 0 -9.2 0zM946.9 880.4a4.6 4.1 0 1 0 9.2 0a4.6 4.1 0 1 0 -9.2 0zM949.3 881.1a4.6 4.1 0 1 0 9.2 0a4.6 4.1 0 1 0 -9.2 0zM951.7 880.9a4.6 4.1 0 1 0 9.2 0a4.6 4.1 0 1 0 -9.2 0zM954.1 880.2a4.6 4.1 0 1 0 9.2 0a4.6 4.1 0 1 0 -9.2 0zM956.6 879.1a4.6 4.1 0 1 0 9.2 0a4.6 4.1 0 1 0 -9.2 0zM959 878.1a4.6 4.1 0 1 0 9.2 0a4.6 4.1 0 1 0 -9.2 0zM961.4 876.8a4.6 4.1 0 1 0 9.2 0a4.6 4.1 0 1 0 -9.2 0zM963.8 875.2a4.6 4.1 0 1 0 9.2 0a4.6 4.1 0 1 0 -9.2 0zM966.3 873.7a4.6 4.1 0 1 0 9.2 0a4.6 4.1 0 1 0 -9.2 0zM968.7 872.7a4.6 4.1 0 1 0 9.2 0a4.6 4.1 0 1 0 -9.2 0zM971.1 872.7a4.6 4.1 0 1 0 9.2 0a4.6 4.1 0 1 0 -9.2 0zM973.6 873.2a4.6 4.1 0 1 0 9.2 0a4.6 4.1 0 1 0 -9.2 0zM976 874a4.6 4.1 0 1 0 9.2 0a4.6 4.1 0 1 0 -9.2 0zM978.4 874.7a4.6 4.1 0 1 0 9.2 0a4.6 4.1 0 1 0 -9.2 0zM980.8 875.2a4.6 4.1 0 1 0 9.2 0a4.6 4.1 0 1 0 -9.2 0zM983.3 875.2a4.6 4.1 0 1 0 9.2 0a4.6 4.1 0 1 0 -9.2 0zM985.7 874.3a4.6 4.1 0 1 0 9.2 0a4.6 4.1 0 1 0 -9.2 0zM988.1 872.9a4.6 4.1 0 1 0 9.2 0a4.6 4.1 0 1 0 -9.2 0zM990.5 871.3a4.6 4.1 0 1 0 9.2 0a4.6 4.1 0 1 0 -9.2 0zM993 869.9a4.6 4.1 0 1 0 9.2 0a4.6 4.1 0 1 0 -9.2 0zM995.4 868.3a4.6 4.1 0 1 0 9.2 0a4.6 4.1 0 1 0 -9.2 0zM997.8 866.6a4.6 4.1 0 1 0 9.2 0a4.6 4.1 0 1 0 -9.2 0zM1000.3 865.3a4.6 4.1 0 1 0 9.2 0a4.6 4.1 0 1 0 -9.2 0zM1002.7 865a4.6 4.1 0 1 0 9.2 0a4.6 4.1 0 1 0 -9.2 0zM1005.1 865.8a4.6 4.1 0 1 0 9.2 0a4.6 4.1 0 1 0 -9.2 0zM1007.5 867.3a4.6 4.1 0 1 0 9.2 0a4.6 4.1 0 1 0 -9.2 0zM1010 869.1a4.6 4.1 0 1 0 9.2 0a4.6 4.1 0 1 0 -9.2 0zM1012.4 870.8a4.6 4.1 0 1 0 9.2 0a4.6 4.1 0 1 0 -9.2 0zM1014.8 872a4.6 4.1 0 1 0 9.2 0a4.6 4.1 0 1 0 -9.2 0zM1017.2 872.4a4.6 4.1 0 1 0 9.2 0a4.6 4.1 0 1 0 -9.2 0zM1019.7 871.8a4.6 4.1 0 1 0 9.2 0a4.6 4.1 0 1 0 -9.2 0zM1022.1 870.6a4.6 4.1 0 1 0 9.2 0a4.6 4.1 0 1 0 -9.2 0zM1024.5 868.9a4.6 4.1 0 1 0 9.2 0a4.6 4.1 0 1 0 -9.2 0zM1027 867.1a4.6 4.1 0 1 0 9.2 0a4.6 4.1 0 1 0 -9.2 0zM1029.4 865.4a4.6 4.1 0 1 0 9.2 0a4.6 4.1 0 1 0 -9.2 0zM1031.8 864a4.6 4.1 0 1 0 9.2 0a4.6 4.1 0 1 0 -9.2 0zM1034.2 863.1a4.6 4.1 0 1 0 9.2 0a4.6 4.1 0 1 0 -9.2 0zM1036.7 863.1a4.6 4.1 0 1 0 9.2 0a4.6 4.1 0 1 0 -9.2 0zM1039.1 864a4.6 4.1 0 1 0 9.2 0a4.6 4.1 0 1 0 -9.2 0zM1041.5 865.4a4.6 4.1 0 1 0 9.2 0a4.6 4.1 0 1 0 -9.2 0zM1043.9 867.3a4.6 4.1 0 1 0 9.2 0a4.6 4.1 0 1 0 -9.2 0zM1046.4 869.2a4.6 4.1 0 1 0 9.2 0a4.6 4.1 0 1 0 -9.2 0zM1048.8 871a4.6 4.1 0 1 0 9.2 0a4.6 4.1 0 1 0 -9.2 0zM1051.2 872.3a4.6 4.1 0 1 0 9.2 0a4.6 4.1 0 1 0 -9.2 0zM1053.6 873a4.6 4.1 0 1 0 9.2 0a4.6 4.1 0 1 0 -9.2 0zM1056.1 872.7a4.6 4.1 0 1 0 9.2 0a4.6 4.1 0 1 0 -9.2 0zM1058.5 871.8a4.6 4.1 0 1 0 9.2 0a4.6 4.1 0 1 0 -9.2 0zM1060.9 870.7a4.6 4.1 0 1 0 9.2 0a4.6 4.1 0 1 0 -9.2 0zM1063.4 869.6a4.6 4.1 0 1 0 9.2 0a4.6 4.1 0 1 0 -9.2 0zM1065.8 869a4.6 4.1 0 1 0 9.2 0a4.6 4.1 0 1 0 -9.2 0zM1068.2 869.4a4.6 4.1 0 1 0 9.2 0a4.6 4.1 0 1 0 -9.2 0zM1070.6 871a4.6 4.1 0 1 0 9.2 0a4.6 4.1 0 1 0 -9.2 0zM1073.1 873.4a4.6 4.1 0 1 0 9.2 0a4.6 4.1 0 1 0 -9.2 0zM1075.5 876.2a4.6 4.1 0 1 0 9.2 0a4.6 4.1 0 1 0 -9.2 0zM1077.9 879.1a4.6 4.1 0 1 0 9.2 0a4.6 4.1 0 1 0 -9.2 0zM1080.3 881.8a4.6 4.1 0 1 0 9.2 0a4.6 4.1 0 1 0 -9.2 0zM1082.8 885.2a4.6 4.1 0 1 0 9.2 0a4.6 4.1 0 1 0 -9.2 0zM1085.2 889.1a4.6 4.1 0 1 0 9.2 0a4.6 4.1 0 1 0 -9.2 0zM1087.6 892.2a4.6 4.1 0 1 0 9.2 0a4.6 4.1 0 1 0 -9.2 0zM1090.1 893.8a4.6 4.1 0 1 0 9.2 0a4.6 4.1 0 1 0 -9.2 0zM1092.5 893.6a4.6 4.1 0 1 0 9.2 0a4.6 4.1 0 1 0 -9.2 0zM1094.9 893a4.6 4.1 0 1 0 9.2 0a4.6 4.1 0 1 0 -9.2 0zM1097.3 892.3a4.6 4.1 0 1 0 9.2 0a4.6 4.1 0 1 0 -9.2 0zM1099.8 892a4.6 4.1 0 1 0 9.2 0a4.6 4.1 0 1 0 -9.2 0zM1102.2 892.6a4.6 4.1 0 1 0 9.2 0a4.6 4.1 0 1 0 -9.2 0zM1104.6 894.3a4.6 4.1 0 1 0 9.2 0a4.6 4.1 0 1 0 -9.2 0zM1107 896.6a4.6 4.1 0 1 0 9.2 0a4.6 4.1 0 1 0 -9.2 0zM1109.5 899.1a4.6 4.1 0 1 0 9.2 0a4.6 4.1 0 1 0 -9.2 0zM1111.9 901.8a4.6 4.1 0 1 0 9.2 0a4.6 4.1 0 1 0 -9.2 0zM1114.3 905a4.6 4.1 0 1 0 9.2 0a4.6 4.1 0 1 0 -9.2 0zM1116.7 907.8a4.6 4.1 0 1 0 9.2 0a4.6 4.1 0 1 0 -9.2 0zM1119.2 910.5a4.6 4.1 0 1 0 9.2 0a4.6 4.1 0 1 0 -9.2 0zM1121.6 912.3a4.6 4.1 0 1 0 9.2 0a4.6 4.1 0 1 0 -9.2 0zM1124 912.1a4.6 4.1 0 1 0 9.2 0a4.6 4.1 0 1 0 -9.2 0zM1126.5 911a4.6 4.1 0 1 0 9.2 0a4.6 4.1 0 1 0 -9.2 0zM1128.9 909.4a4.6 4.1 0 1 0 9.2 0a4.6 4.1 0 1 0 -9.2 0zM1131.3 908a4.6 4.1 0 1 0 9.2 0a4.6 4.1 0 1 0 -9.2 0zM1133.7 907.2a4.6 4.1 0 1 0 9.2 0a4.6 4.1 0 1 0 -9.2 0zM1136.2 907.3a4.6 4.1 0 1 0 9.2 0a4.6 4.1 0 1 0 -9.2 0zM1138.6 908.3a4.6 4.1 0 1 0 9.2 0a4.6 4.1 0 1 0 -9.2 0zM1141 909.7a4.6 4.1 0 1 0 9.2 0a4.6 4.1 0 1 0 -9.2 0zM1143.4 911.4a4.6 4.1 0 1 0 9.2 0a4.6 4.1 0 1 0 -9.2 0zM1145.9 914.1a4.6 4.1 0 1 0 9.2 0a4.6 4.1 0 1 0 -9.2 0zM1148.3 917.8a4.6 4.1 0 1 0 9.2 0a4.6 4.1 0 1 0 -9.2 0zM1150.7 921.5a4.6 4.1 0 1 0 9.2 0a4.6 4.1 0 1 0 -9.2 0zM1153.2 924.1a4.6 4.1 0 1 0 9.2 0a4.6 4.1 0 1 0 -9.2 0zM1155.6 924.5a4.6 4.1 0 1 0 9.2 0a4.6 4.1 0 1 0 -9.2 0zM1158 923.9a4.6 4.1 0 1 0 9.2 0a4.6 4.1 0 1 0 -9.2 0zM1160.4 922.7a4.6 4.1 0 1 0 9.2 0a4.6 4.1 0 1 0 -9.2 0zM1162.9 921.3a4.6 4.1 0 1 0 9.2 0a4.6 4.1 0 1 0 -9.2 0zM1165.3 919.7a4.6 4.1 0 1 0 9.2 0a4.6 4.1 0 1 0 -9.2 0zM1167.7 918.3a4.6 4.1 0 1 0 9.2 0a4.6 4.1 0 1 0 -9.2 0zM1170.1 917.2a4.6 4.1 0 1 0 9.2 0a4.6 4.1 0 1 0 -9.2 0zM1172.6 916.7a4.6 4.1 0 1 0 9.2 0a4.6 4.1 0 1 0 -9.2 0zM1175 917.1a4.6 4.1 0 1 0 9.2 0a4.6 4.1 0 1 0 -9.2 0zM1177.4 918.4a4.6 4.1 0 1 0 9.2 0a4.6 4.1 0 1 0 -9.2 0zM1179.9 920.2a4.6 4.1 0 1 0 9.2 0a4.6 4.1 0 1 0 -9.2 0zM1182.3 922.2a4.6 4.1 0 1 0 9.2 0a4.6 4.1 0 1 0 -9.2 0zM1184.7 924a4.6 4.1 0 1 0 9.2 0a4.6 4.1 0 1 0 -9.2 0zM1187.1 925.2a4.6 4.1 0 1 0 9.2 0a4.6 4.1 0 1 0 -9.2 0zM1189.6 925.6a4.6 4.1 0 1 0 9.2 0a4.6 4.1 0 1 0 -9.2 0zM1192 925.1a4.6 4.1 0 1 0 9.2 0a4.6 4.1 0 1 0 -9.2 0zM1194.4 924a4.6 4.1 0 1 0 9.2 0a4.6 4.1 0 1 0 -9.2 0zM1196.8 922.7a4.6 4.1 0 1 0 9.2 0a4.6 4.1 0 1 0 -9.2 0zM1199.3 921.3a4.6 4.1 0 1 0 9.2 0a4.6 4.1 0 1 0 -9.2 0zM1201.7 920.1a4.6 4.1 0 1 0 9.2 0a4.6 4.1 0 1 0 -9.2 0zM1204.1 919.4a4.6 4.1 0 1 0 9.2 0a4.6 4.1 0 1 0 -9.2 0zM1206.5 919.3a4.6 4.1 0 1 0 9.2 0a4.6 4.1 0 1 0 -9.2 0zM1209 919.3a4.6 4.1 0 1 0 9.2 0a4.6 4.1 0 1 0 -9.2 0zM1211.4 919.4a4.6 4.1 0 1 0 9.2 0a4.6 4.1 0 1 0 -9.2 0zM1213.8 919.4a4.6 4.1 0 1 0 9.2 0a4.6 4.1 0 1 0 -9.2 0zM1216.3 919.5a4.6 4.1 0 1 0 9.2 0a4.6 4.1 0 1 0 -9.2 0zM1218.7 919.5a4.6 4.1 0 1 0 9.2 0a4.6 4.1 0 1 0 -9.2 0zM1221.1 919.4a4.6 4.1 0 1 0 9.2 0a4.6 4.1 0 1 0 -9.2 0zM1223.5 919a4.6 4.1 0 1 0 9.2 0a4.6 4.1 0 1 0 -9.2 0zM1226 918.4a4.6 4.1 0 1 0 9.2 0a4.6 4.1 0 1 0 -9.2 0zM1228.4 917.7a4.6 4.1 0 1 0 9.2 0a4.6 4.1 0 1 0 -9.2 0zM1230.8 917a4.6 4.1 0 1 0 9.2 0a4.6 4.1 0 1 0 -9.2 0zM1233.2 916.6a4.6 4.1 0 1 0 9.2 0a4.6 4.1 0 1 0 -9.2 0zM1235.7 916.5a4.6 4.1 0 1 0 9.2 0a4.6 4.1 0 1 0 -9.2 0zM1238.1 916.9a4.6 4.1 0 1 0 9.2 0a4.6 4.1 0 1 0 -9.2 0zM1240.5 917.5a4.6 4.1 0 1 0 9.2 0a4.6 4.1 0 1 0 -9.2 0zM1243 918.4a4.6 4.1 0 1 0 9.2 0a4.6 4.1 0 1 0 -9.2 0zM1245.4 919.2a4.6 4.1 0 1 0 9.2 0a4.6 4.1 0 1 0 -9.2 0zM1247.8 919.9a4.6 4.1 0 1 0 9.2 0a4.6 4.1 0 1 0 -9.2 0zM1250.2 920.4a4.6 4.1 0 1 0 9.2 0a4.6 4.1 0 1 0 -9.2 0zM1252.7 920.9a4.6 4.1 0 1 0 9.2 0a4.6 4.1 0 1 0 -9.2 0zM1255.1 921.4a4.6 4.1 0 1 0 9.2 0a4.6 4.1 0 1 0 -9.2 0zM1257.5 921.8a4.6 4.1 0 1 0 9.2 0a4.6 4.1 0 1 0 -9.2 0zM1259.9 922.1a4.6 4.1 0 1 0 9.2 0a4.6 4.1 0 1 0 -9.2 0zM1262.4 922.2a4.6 4.1 0 1 0 9.2 0a4.6 4.1 0 1 0 -9.2 0zM1264.8 922.2a4.6 4.1 0 1 0 9.2 0a4.6 4.1 0 1 0 -9.2 0zM1267.2 922.1a4.6 4.1 0 1 0 9.2 0a4.6 4.1 0 1 0 -9.2 0zM1269.7 921.9a4.6 4.1 0 1 0 9.2 0a4.6 4.1 0 1 0 -9.2 0zM1272.1 921.8a4.6 4.1 0 1 0 9.2 0a4.6 4.1 0 1 0 -9.2 0zM1274.5 921.5a4.6 4.1 0 1 0 9.2 0a4.6 4.1 0 1 0 -9.2 0zM1276.9 921.3a4.6 4.1 0 1 0 9.2 0a4.6 4.1 0 1 0 -9.2 0zM1279.4 921a4.6 4.1 0 1 0 9.2 0a4.6 4.1 0 1 0 -9.2 0zM1281.8 920.4a4.6 4.1 0 1 0 9.2 0a4.6 4.1 0 1 0 -9.2 0zM1284.2 919.9a4.6 4.1 0 1 0 9.2 0a4.6 4.1 0 1 0 -9.2 0zM1286.6 919.4a4.6 4.1 0 1 0 9.2 0a4.6 4.1 0 1 0 -9.2 0zM1289.1 919.2a4.6 4.1 0 1 0 9.2 0a4.6 4.1 0 1 0 -9.2 0zM1291.5 919.6a4.6 4.1 0 1 0 9.2 0a4.6 4.1 0 1 0 -9.2 0zM1293.9 920.9a4.6 4.1 0 1 0 9.2 0a4.6 4.1 0 1 0 -9.2 0zM1296.3 922.4a4.6 4.1 0 1 0 9.2 0a4.6 4.1 0 1 0 -9.2 0zM1298.8 924a4.6 4.1 0 1 0 9.2 0a4.6 4.1 0 1 0 -9.2 0zM1301.2 925.5a4.6 4.1 0 1 0 9.2 0a4.6 4.1 0 1 0 -9.2 0zM1303.6 927.5a4.6 4.1 0 1 0 9.2 0a4.6 4.1 0 1 0 -9.2 0zM1306.1 929.6a4.6 4.1 0 1 0 9.2 0a4.6 4.1 0 1 0 -9.2 0zM1308.5 931.6a4.6 4.1 0 1 0 9.2 0a4.6 4.1 0 1 0 -9.2 0zM1310.9 933.2a4.6 4.1 0 1 0 9.2 0a4.6 4.1 0 1 0 -9.2 0zM1313.3 934.4a4.6 4.1 0 1 0 9.2 0a4.6 4.1 0 1 0 -9.2 0zM1315.8 934.7a4.6 4.1 0 1 0 9.2 0a4.6 4.1 0 1 0 -9.2 0zM1318.2 934.3a4.6 4.1 0 1 0 9.2 0a4.6 4.1 0 1 0 -9.2 0zM1320.6 933.5a4.6 4.1 0 1 0 9.2 0a4.6 4.1 0 1 0 -9.2 0zM1323 932.4a4.6 4.1 0 1 0 9.2 0a4.6 4.1 0 1 0 -9.2 0zM1325.5 931.5a4.6 4.1 0 1 0 9.2 0a4.6 4.1 0 1 0 -9.2 0zM1327.9 931a4.6 4.1 0 1 0 9.2 0a4.6 4.1 0 1 0 -9.2 0zM1330.3 931a4.6 4.1 0 1 0 9.2 0a4.6 4.1 0 1 0 -9.2 0zM1332.8 931.7a4.6 4.1 0 1 0 9.2 0a4.6 4.1 0 1 0 -9.2 0zM1335.2 932.9a4.6 4.1 0 1 0 9.2 0a4.6 4.1 0 1 0 -9.2 0zM1337.6 934.3a4.6 4.1 0 1 0 9.2 0a4.6 4.1 0 1 0 -9.2 0zM1340 935.9a4.6 4.1 0 1 0 9.2 0a4.6 4.1 0 1 0 -9.2 0zM1342.5 937.3a4.6 4.1 0 1 0 9.2 0a4.6 4.1 0 1 0 -9.2 0zM1344.9 938.6a4.6 4.1 0 1 0 9.2 0a4.6 4.1 0 1 0 -9.2 0zM1347.3 939.3a4.6 4.1 0 1 0 9.2 0a4.6 4.1 0 1 0 -9.2 0zM1349.7 939.5a4.6 4.1 0 1 0 9.2 0a4.6 4.1 0 1 0 -9.2 0zM1352.2 939a4.6 4.1 0 1 0 9.2 0a4.6 4.1 0 1 0 -9.2 0zM1354.6 938.1a4.6 4.1 0 1 0 9.2 0a4.6 4.1 0 1 0 -9.2 0zM1357 937a4.6 4.1 0 1 0 9.2 0a4.6 4.1 0 1 0 -9.2 0zM1359.4 936a4.6 4.1 0 1 0 9.2 0a4.6 4.1 0 1 0 -9.2 0zM1361.9 935.3a4.6 4.1 0 1 0 9.2 0a4.6 4.1 0 1 0 -9.2 0zM1364.3 935.3a4.6 4.1 0 1 0 9.2 0a4.6 4.1 0 1 0 -9.2 0zM1366.7 936.6a4.6 4.1 0 1 0 9.2 0a4.6 4.1 0 1 0 -9.2 0zM1369.2 938.9a4.6 4.1 0 1 0 9.2 0a4.6 4.1 0 1 0 -9.2 0zM1371.6 941.8a4.6 4.1 0 1 0 9.2 0a4.6 4.1 0 1 0 -9.2 0zM1374 944.8a4.6 4.1 0 1 0 9.2 0a4.6 4.1 0 1 0 -9.2 0zM1376.4 947.3a4.6 4.1 0 1 0 9.2 0a4.6 4.1 0 1 0 -9.2 0zM1378.9 949.9a4.6 4.1 0 1 0 9.2 0a4.6 4.1 0 1 0 -9.2 0zM1381.3 952.7a4.6 4.1 0 1 0 9.2 0a4.6 4.1 0 1 0 -9.2 0zM1383.7 954.7a4.6 4.1 0 1 0 9.2 0a4.6 4.1 0 1 0 -9.2 0zM1386.1 955.1a4.6 4.1 0 1 0 9.2 0a4.6 4.1 0 1 0 -9.2 0zM1388.6 954.4a4.6 4.1 0 1 0 9.2 0a4.6 4.1 0 1 0 -9.2 0zM1391 952.8a4.6 4.1 0 1 0 9.2 0a4.6 4.1 0 1 0 -9.2 0zM1393.4 950.8a4.6 4.1 0 1 0 9.2 0a4.6 4.1 0 1 0 -9.2 0zM1395.9 948.6a4.6 4.1 0 1 0 9.2 0a4.6 4.1 0 1 0 -9.2 0zM1398.3 946.6a4.6 4.1 0 1 0 9.2 0a4.6 4.1 0 1 0 -9.2 0zM1400.7 944.9a4.6 4.1 0 1 0 9.2 0a4.6 4.1 0 1 0 -9.2 0zM1403.1 943.9a4.6 4.1 0 1 0 9.2 0a4.6 4.1 0 1 0 -9.2 0zM1405.6 944a4.6 4.1 0 1 0 9.2 0a4.6 4.1 0 1 0 -9.2 0zM1408 945.6a4.6 4.1 0 1 0 9.2 0a4.6 4.1 0 1 0 -9.2 0zM1410.4 948.1a4.6 4.1 0 1 0 9.2 0a4.6 4.1 0 1 0 -9.2 0zM1412.8 951a4.6 4.1 0 1 0 9.2 0a4.6 4.1 0 1 0 -9.2 0zM1415.3 953.6a4.6 4.1 0 1 0 9.2 0a4.6 4.1 0 1 0 -9.2 0zM1417.7 956.2a4.6 4.1 0 1 0 9.2 0a4.6 4.1 0 1 0 -9.2 0zM1420.1 959.2a4.6 4.1 0 1 0 9.2 0a4.6 4.1 0 1 0 -9.2 0zM1422.6 961.7a4.6 4.1 0 1 0 9.2 0a4.6 4.1 0 1 0 -9.2 0zM1425 962.9a4.6 4.1 0 1 0 9.2 0a4.6 4.1 0 1 0 -9.2 0zM1427.4 962.5a4.6 4.1 0 1 0 9.2 0a4.6 4.1 0 1 0 -9.2 0zM1429.8 961.2a4.6 4.1 0 1 0 9.2 0a4.6 4.1 0 1 0 -9.2 0zM1432.3 959.4a4.6 4.1 0 1 0 9.2 0a4.6 4.1 0 1 0 -9.2 0zM1434.7 957.4a4.6 4.1 0 1 0 9.2 0a4.6 4.1 0 1 0 -9.2 0zM1437.1 955.4a4.6 4.1 0 1 0 9.2 0a4.6 4.1 0 1 0 -9.2 0zM1439.5 953.8a4.6 4.1 0 1 0 9.2 0a4.6 4.1 0 1 0 -9.2 0zM1442 952.5a4.6 4.1 0 1 0 9.2 0a4.6 4.1 0 1 0 -9.2 0zM1444.4 951.2a4.6 4.1 0 1 0 9.2 0a4.6 4.1 0 1 0 -9.2 0zM1446.8 950a4.6 4.1 0 1 0 9.2 0a4.6 4.1 0 1 0 -9.2 0zM1449.2 949.1a4.6 4.1 0 1 0 9.2 0a4.6 4.1 0 1 0 -9.2 0zM1451.7 948.8a4.6 4.1 0 1 0 9.2 0a4.6 4.1 0 1 0 -9.2 0zM1454.1 949a4.6 4.1 0 1 0 9.2 0a4.6 4.1 0 1 0 -9.2 0zM1456.5 949.7a4.6 4.1 0 1 0 9.2 0a4.6 4.1 0 1 0 -9.2 0zM1459 950.6a4.6 4.1 0 1 0 9.2 0a4.6 4.1 0 1 0 -9.2 0zM1461.4 951.7a4.6 4.1 0 1 0 9.2 0a4.6 4.1 0 1 0 -9.2 0zM1463.8 952.8a4.6 4.1 0 1 0 9.2 0a4.6 4.1 0 1 0 -9.2 0zM1466.2 954.4a4.6 4.1 0 1 0 9.2 0a4.6 4.1 0 1 0 -9.2 0zM1468.7 956.3a4.6 4.1 0 1 0 9.2 0a4.6 4.1 0 1 0 -9.2 0zM1471.1 958.5a4.6 4.1 0 1 0 9.2 0a4.6 4.1 0 1 0 -9.2 0zM1473.5 960.9a4.6 4.1 0 1 0 9.2 0a4.6 4.1 0 1 0 -9.2 0zM1475.9 963.3a4.6 4.1 0 1 0 9.2 0a4.6 4.1 0 1 0 -9.2 0zM1478.4 966.3a4.6 4.1 0 1 0 9.2 0a4.6 4.1 0 1 0 -9.2 0zM1480.8 969.9a4.6 4.1 0 1 0 9.2 0a4.6 4.1 0 1 0 -9.2 0zM1483.2 973.7a4.6 4.1 0 1 0 9.2 0a4.6 4.1 0 1 0 -9.2 0zM1485.7 977.2a4.6 4.1 0 1 0 9.2 0a4.6 4.1 0 1 0 -9.2 0zM1488.1 979.8a4.6 4.1 0 1 0 9.2 0a4.6 4.1 0 1 0 -9.2 0zM1490.5 981.3a4.6 4.1 0 1 0 9.2 0a4.6 4.1 0 1 0 -9.2 0zM1492.9 981.2a4.6 4.1 0 1 0 9.2 0a4.6 4.1 0 1 0 -9.2 0zM1495.4 980.2a4.6 4.1 0 1 0 9.2 0a4.6 4.1 0 1 0 -9.2 0zM1497.8 978.7a4.6 4.1 0 1 0 9.2 0a4.6 4.1 0 1 0 -9.2 0zM1500.2 977a4.6 4.1 0 1 0 9.2 0a4.6 4.1 0 1 0 -9.2 0zM1502.6 975.5a4.6 4.1 0 1 0 9.2 0a4.6 4.1 0 1 0 -9.2 0zM1505.1 974.6a4.6 4.1 0 1 0 9.2 0a4.6 4.1 0 1 0 -9.2 0zM1507.5 974.6a4.6 4.1 0 1 0 9.2 0a4.6 4.1 0 1 0 -9.2 0zM1509.9 975.5a4.6 4.1 0 1 0 9.2 0a4.6 4.1 0 1 0 -9.2 0zM1512.4 977a4.6 4.1 0 1 0 9.2 0a4.6 4.1 0 1 0 -9.2 0zM1514.8 979a4.6 4.1 0 1 0 9.2 0a4.6 4.1 0 1 0 -9.2 0zM1517.2 981.3a4.6 4.1 0 1 0 9.2 0a4.6 4.1 0 1 0 -9.2 0zM1519.6 983.6a4.6 4.1 0 1 0 9.2 0a4.6 4.1 0 1 0 -9.2 0zM1522.1 985.8a4.6 4.1 0 1 0 9.2 0a4.6 4.1 0 1 0 -9.2 0zM1524.5 988.2a4.6 4.1 0 1 0 9.2 0a4.6 4.1 0 1 0 -9.2 0zM1526.9 991.2a4.6 4.1 0 1 0 9.2 0a4.6 4.1 0 1 0 -9.2 0zM1529.3 993.9a4.6 4.1 0 1 0 9.2 0a4.6 4.1 0 1 0 -9.2 0zM1531.8 995.3a4.6 4.1 0 1 0 9.2 0a4.6 4.1 0 1 0 -9.2 0zM1534.2 995.1a4.6 4.1 0 1 0 9.2 0a4.6 4.1 0 1 0 -9.2 0zM1536.6 993.8a4.6 4.1 0 1 0 9.2 0a4.6 4.1 0 1 0 -9.2 0zM1539 992.1a4.6 4.1 0 1 0 9.2 0a4.6 4.1 0 1 0 -9.2 0zM1541.5 990.5a4.6 4.1 0 1 0 9.2 0a4.6 4.1 0 1 0 -9.2 0zM1543.9 989.6a4.6 4.1 0 1 0 9.2 0a4.6 4.1 0 1 0 -9.2 0zM1546.3 989.9a4.6 4.1 0 1 0 9.2 0a4.6 4.1 0 1 0 -9.2 0zM1548.8 991.8a4.6 4.1 0 1 0 9.2 0a4.6 4.1 0 1 0 -9.2 0zM1551.2 994.9a4.6 4.1 0 1 0 9.2 0a4.6 4.1 0 1 0 -9.2 0zM1553.6 998.8a4.6 4.1 0 1 0 9.2 0a4.6 4.1 0 1 0 -9.2 0zM1556 1002.9a4.6 4.1 0 1 0 9.2 0a4.6 4.1 0 1 0 -9.2 0zM1558.5 1006.8a4.6 4.1 0 1 0 9.2 0a4.6 4.1 0 1 0 -9.2 0zM1560.9 1010.2a4.6 4.1 0 1 0 9.2 0a4.6 4.1 0 1 0 -9.2 0zM1563.3 1014.2a4.6 4.1 0 1 0 9.2 0a4.6 4.1 0 1 0 -9.2 0zM1565.7 1018.4a4.6 4.1 0 1 0 9.2 0a4.6 4.1 0 1 0 -9.2 0zM1568.2 1022a4.6 4.1 0 1 0 9.2 0a4.6 4.1 0 1 0 -9.2 0zM1570.6 1024.4a4.6 4.1 0 1 0 9.2 0a4.6 4.1 0 1 0 -9.2 0zM1573 1024.8a4.6 4.1 0 1 0 9.2 0a4.6 4.1 0 1 0 -9.2 0zM1575.5 1023.2a4.6 4.1 0 1 0 9.2 0a4.6 4.1 0 1 0 -9.2 0zM1577.9 1020.3a4.6 4.1 0 1 0 9.2 0a4.6 4.1 0 1 0 -9.2 0zM1580.3 1016.5a4.6 4.1 0 1 0 9.2 0a4.6 4.1 0 1 0 -9.2 0zM1582.7 1012.4a4.6 4.1 0 1 0 9.2 0a4.6 4.1 0 1 0 -9.2 0zM1585.2 1008.7a4.6 4.1 0 1 0 9.2 0a4.6 4.1 0 1 0 -9.2 0zM1587.6 1005.7a4.6 4.1 0 1 0 9.2 0a4.6 4.1 0 1 0 -9.2 0zM1590 1004.2a4.6 4.1 0 1 0 9.2 0a4.6 4.1 0 1 0 -9.2 0zM1592.4 1004.5a4.6 4.1 0 1 0 9.2 0a4.6 4.1 0 1 0 -9.2 0zM1594.9 1006.5a4.6 4.1 0 1 0 9.2 0a4.6 4.1 0 1 0 -9.2 0zM1597.3 1009.6a4.6 4.1 0 1 0 9.2 0a4.6 4.1 0 1 0 -9.2 0zM1599.7 1013.1a4.6 4.1 0 1 0 9.2 0a4.6 4.1 0 1 0 -9.2 0zM1602.1 1016.4a4.6 4.1 0 1 0 9.2 0a4.6 4.1 0 1 0 -9.2 0zM1604.6 1019.3a4.6 4.1 0 1 0 9.2 0a4.6 4.1 0 1 0 -9.2 0zM1607 1022.8a4.6 4.1 0 1 0 9.2 0a4.6 4.1 0 1 0 -9.2 0zM1609.4 1026.4a4.6 4.1 0 1 0 9.2 0a4.6 4.1 0 1 0 -9.2 0zM1611.9 1029.4a4.6 4.1 0 1 0 9.2 0a4.6 4.1 0 1 0 -9.2 0zM1614.3 1031.4a4.6 4.1 0 1 0 9.2 0a4.6 4.1 0 1 0 -9.2 0zM1616.7 1031.6a4.6 4.1 0 1 0 9.2 0a4.6 4.1 0 1 0 -9.2 0zM1619.1 1030.5a4.6 4.1 0 1 0 9.2 0a4.6 4.1 0 1 0 -9.2 0zM1621.6 1028.6a4.6 4.1 0 1 0 9.2 0a4.6 4.1 0 1 0 -9.2 0zM1624 1026.3a4.6 4.1 0 1 0 9.2 0a4.6 4.1 0 1 0 -9.2 0zM1626.4 1023.9a4.6 4.1 0 1 0 9.2 0a4.6 4.1 0 1 0 -9.2 0zM1628.8 1021.9a4.6 4.1 0 1 0 9.2 0a4.6 4.1 0 1 0 -9.2 0zM1631.3 1020.8a4.6 4.1 0 1 0 9.2 0a4.6 4.1 0 1 0 -9.2 0zM1633.7 1020.9a4.6 4.1 0 1 0 9.2 0a4.6 4.1 0 1 0 -9.2 0zM1636.1 1023a4.6 4.1 0 1 0 9.2 0a4.6 4.1 0 1 0 -9.2 0zM1638.6 1026.3a4.6 4.1 0 1 0 9.2 0a4.6 4.1 0 1 0 -9.2 0zM1641 1030.1a4.6 4.1 0 1 0 9.2 0a4.6 4.1 0 1 0 -9.2 0zM1643.4 1033.6a4.6 4.1 0 1 0 9.2 0a4.6 4.1 0 1 0 -9.2 0zM1645.8 1036.3a4.6 4.1 0 1 0 9.2 0a4.6 4.1 0 1 0 -9.2 0zM1648.3 1039.3a4.6 4.1 0 1 0 9.2 0a4.6 4.1 0 1 0 -9.2 0zM1650.7 1042.2a4.6 4.1 0 1 0 9.2 0a4.6 4.1 0 1 0 -9.2 0zM1653.1 1044.5a4.6 4.1 0 1 0 9.2 0a4.6 4.1 0 1 0 -9.2 0zM1655.5 1045.9a4.6 4.1 0 1 0 9.2 0a4.6 4.1 0 1 0 -9.2 0zM1658 1045.8a4.6 4.1 0 1 0 9.2 0a4.6 4.1 0 1 0 -9.2 0zM1660.4 1043.9a4.6 4.1 0 1 0 9.2 0a4.6 4.1 0 1 0 -9.2 0zM1662.8 1040.8a4.6 4.1 0 1 0 9.2 0a4.6 4.1 0 1 0 -9.2 0zM1665.3 1037.2a4.6 4.1 0 1 0 9.2 0a4.6 4.1 0 1 0 -9.2 0zM1667.7 1033.7a4.6 4.1 0 1 0 9.2 0a4.6 4.1 0 1 0 -9.2 0zM1670.1 1030.1a4.6 4.1 0 1 0 9.2 0a4.6 4.1 0 1 0 -9.2 0zM1672.5 1025.6a4.6 4.1 0 1 0 9.2 0a4.6 4.1 0 1 0 -9.2 0zM1675 1021a4.6 4.1 0 1 0 9.2 0a4.6 4.1 0 1 0 -9.2 0zM1677.4 1016.6a4.6 4.1 0 1 0 9.2 0a4.6 4.1 0 1 0 -9.2 0zM1679.8 1013.4a4.6 4.1 0 1 0 9.2 0a4.6 4.1 0 1 0 -9.2 0zM1682.2 1011.7a4.6 4.1 0 1 0 9.2 0a4.6 4.1 0 1 0 -9.2 0zM1684.7 1012.1a4.6 4.1 0 1 0 9.2 0a4.6 4.1 0 1 0 -9.2 0zM1687.1 1014.1a4.6 4.1 0 1 0 9.2 0a4.6 4.1 0 1 0 -9.2 0zM1689.5 1017.4a4.6 4.1 0 1 0 9.2 0a4.6 4.1 0 1 0 -9.2 0zM1691.9 1021.6a4.6 4.1 0 1 0 9.2 0a4.6 4.1 0 1 0 -9.2 0zM1694.4 1026.4a4.6 4.1 0 1 0 9.2 0a4.6 4.1 0 1 0 -9.2 0zM1696.8 1031.2a4.6 4.1 0 1 0 9.2 0a4.6 4.1 0 1 0 -9.2 0zM1699.2 1035.8a4.6 4.1 0 1 0 9.2 0a4.6 4.1 0 1 0 -9.2 0zM1701.7 1039.7a4.6 4.1 0 1 0 9.2 0a4.6 4.1 0 1 0 -9.2 0zM1704.1 1042.7a4.6 4.1 0 1 0 9.2 0a4.6 4.1 0 1 0 -9.2 0zM1706.5 1044.2a4.6 4.1 0 1 0 9.2 0a4.6 4.1 0 1 0 -9.2 0zM1708.9 1044a4.6 4.1 0 1 0 9.2 0a4.6 4.1 0 1 0 -9.2 0zM1711.4 1041.7a4.6 4.1 0 1 0 9.2 0a4.6 4.1 0 1 0 -9.2 0zM1713.8 1037.9a4.6 4.1 0 1 0 9.2 0a4.6 4.1 0 1 0 -9.2 0zM1716.2 1033.1a4.6 4.1 0 1 0 9.2 0a4.6 4.1 0 1 0 -9.2 0zM1718.6 1027.8a4.6 4.1 0 1 0 9.2 0a4.6 4.1 0 1 0 -9.2 0zM1721.1 1022.5a4.6 4.1 0 1 0 9.2 0a4.6 4.1 0 1 0 -9.2 0zM1723.5 1017.7a4.6 4.1 0 1 0 9.2 0a4.6 4.1 0 1 0 -9.2 0zM1725.9 1014a4.6 4.1 0 1 0 9.2 0a4.6 4.1 0 1 0 -9.2 0zM1728.4 1011.9a4.6 4.1 0 1 0 9.2 0a4.6 4.1 0 1 0 -9.2 0zM1730.8 1011.9a4.6 4.1 0 1 0 9.2 0a4.6 4.1 0 1 0 -9.2 0zM1733.2 1013.9a4.6 4.1 0 1 0 9.2 0a4.6 4.1 0 1 0 -9.2 0zM1735.6 1017.6a4.6 4.1 0 1 0 9.2 0a4.6 4.1 0 1 0 -9.2 0zM1738.1 1022.3a4.6 4.1 0 1 0 9.2 0a4.6 4.1 0 1 0 -9.2 0zM1740.5 1027.6a4.6 4.1 0 1 0 9.2 0a4.6 4.1 0 1 0 -9.2 0zM1742.9 1033a4.6 4.1 0 1 0 9.2 0a4.6 4.1 0 1 0 -9.2 0zM1745.3 1037.8a4.6 4.1 0 1 0 9.2 0a4.6 4.1 0 1 0 -9.2 0zM1747.8 1041.7a4.6 4.1 0 1 0 9.2 0a4.6 4.1 0 1 0 -9.2 0zM1750.2 1044a4.6 4.1 0 1 0 9.2 0a4.6 4.1 0 1 0 -9.2 0zM1752.6 1044.2a4.6 4.1 0 1 0 9.2 0a4.6 4.1 0 1 0 -9.2 0zM1755.1 1042.2a4.6 4.1 0 1 0 9.2 0a4.6 4.1 0 1 0 -9.2 0zM1757.5 1038.4a4.6 4.1 0 1 0 9.2 0a4.6 4.1 0 1 0 -9.2 0zM1759.9 1033.4a4.6 4.1 0 1 0 9.2 0a4.6 4.1 0 1 0 -9.2 0zM1762.3 1027.7a4.6 4.1 0 1 0 9.2 0a4.6 4.1 0 1 0 -9.2 0zM1764.8 1021.9a4.6 4.1 0 1 0 9.2 0a4.6 4.1 0 1 0 -9.2 0zM1767.2 1016.5a4.6 4.1 0 1 0 9.2 0a4.6 4.1 0 1 0 -9.2 0zM1769.6 1012.2a4.6 4.1 0 1 0 9.2 0a4.6 4.1 0 1 0 -9.2 0zM1772 1009.5a4.6 4.1 0 1 0 9.2 0a4.6 4.1 0 1 0 -9.2 0zM1774.5 1009a4.6 4.1 0 1 0 9.2 0a4.6 4.1 0 1 0 -9.2 0zM1776.9 1010.9a4.6 4.1 0 1 0 9.2 0a4.6 4.1 0 1 0 -9.2 0zM1779.3 1014.8a4.6 4.1 0 1 0 9.2 0a4.6 4.1 0 1 0 -9.2 0zM1781.7 1020.1a4.6 4.1 0 1 0 9.2 0a4.6 4.1 0 1 0 -9.2 0zM1784.2 1026.2a4.6 4.1 0 1 0 9.2 0a4.6 4.1 0 1 0 -9.2 0zM1786.6 1032.4a4.6 4.1 0 1 0 9.2 0a4.6 4.1 0 1 0 -9.2 0zM1789 1038.2a4.6 4.1 0 1 0 9.2 0a4.6 4.1 0 1 0 -9.2 0zM1791.5 1043a4.6 4.1 0 1 0 9.2 0a4.6 4.1 0 1 0 -9.2 0zM1793.9 1046.1a4.6 4.1 0 1 0 9.2 0a4.6 4.1 0 1 0 -9.2 0zM1796.3 1047a4.6 4.1 0 1 0 9.2 0a4.6 4.1 0 1 0 -9.2 0zM1798.7 1045.1a4.6 4.1 0 1 0 9.2 0a4.6 4.1 0 1 0 -9.2 0zM1801.2 1040.9a4.6 4.1 0 1 0 9.2 0a4.6 4.1 0 1 0 -9.2 0zM1803.6 1035a4.6 4.1 0 1 0 9.2 0a4.6 4.1 0 1 0 -9.2 0zM1806 1027.9a4.6 4.1 0 1 0 9.2 0a4.6 4.1 0 1 0 -9.2 0zM1808.4 1020.3a4.6 4.1 0 1 0 9.2 0a4.6 4.1 0 1 0 -9.2 0zM1810.9 1012.7a4.6 4.1 0 1 0 9.2 0a4.6 4.1 0 1 0 -9.2 0zM1813.3 1005.8a4.6 4.1 0 1 0 9.2 0a4.6 4.1 0 1 0 -9.2 0zM1815.7 1000.1a4.6 4.1 0 1 0 9.2 0a4.6 4.1 0 1 0 -9.2 0zM1818.2 996.2a4.6 4.1 0 1 0 9.2 0a4.6 4.1 0 1 0 -9.2 0zM1820.6 994.8a4.6 4.1 0 1 0 9.2 0a4.6 4.1 0 1 0 -9.2 0zM1823 996.5a4.6 4.1 0 1 0 9.2 0a4.6 4.1 0 1 0 -9.2 0zM1825.4 1001.1a4.6 4.1 0 1 0 9.2 0a4.6 4.1 0 1 0 -9.2 0zM1827.9 1008a4.6 4.1 0 1 0 9.2 0a4.6 4.1 0 1 0 -9.2 0zM1830.3 1016.5a4.6 4.1 0 1 0 9.2 0a4.6 4.1 0 1 0 -9.2 0zM1832.7 1025.8a4.6 4.1 0 1 0 9.2 0a4.6 4.1 0 1 0 -9.2 0zM1835.1 1035.3a4.6 4.1 0 1 0 9.2 0a4.6 4.1 0 1 0 -9.2 0zM1837.6 1044.3a4.6 4.1 0 1 0 9.2 0a4.6 4.1 0 1 0 -9.2 0zM1840 1052.1a4.6 4.1 0 1 0 9.2 0a4.6 4.1 0 1 0 -9.2 0zM1842.4 1058a4.6 4.1 0 1 0 9.2 0a4.6 4.1 0 1 0 -9.2 0zM1844.8 1061.3a4.6 4.1 0 1 0 9.2 0a4.6 4.1 0 1 0 -9.2 0zM1847.3 1061.4a4.6 4.1 0 1 0 9.2 0a4.6 4.1 0 1 0 -9.2 0zM1849.7 1058.7a4.6 4.1 0 1 0 9.2 0a4.6 4.1 0 1 0 -9.2 0zM1852.1 1053.7a4.6 4.1 0 1 0 9.2 0a4.6 4.1 0 1 0 -9.2 0zM1854.6 1047.1a4.6 4.1 0 1 0 9.2 0a4.6 4.1 0 1 0 -9.2 0zM1857 1039.4a4.6 4.1 0 1 0 9.2 0a4.6 4.1 0 1 0 -9.2 0zM1859.4 1031.3a4.6 4.1 0 1 0 9.2 0a4.6 4.1 0 1 0 -9.2 0zM1861.8 1023.3a4.6 4.1 0 1 0 9.2 0a4.6 4.1 0 1 0 -9.2 0zM1864.3 1016.1a4.6 4.1 0 1 0 9.2 0a4.6 4.1 0 1 0 -9.2 0zM1866.7 1010.2a4.6 4.1 0 1 0 9.2 0a4.6 4.1 0 1 0 -9.2 0zM1869.1 1006.3a4.6 4.1 0 1 0 9.2 0a4.6 4.1 0 1 0 -9.2 0zM1871.5 1004.9a4.6 4.1 0 1 0 9.2 0a4.6 4.1 0 1 0 -9.2 0zM1874 1006a4.6 4.1 0 1 0 9.2 0a4.6 4.1 0 1 0 -9.2 0zM1876.4 1009.1a4.6 4.1 0 1 0 9.2 0a4.6 4.1 0 1 0 -9.2 0zM1878.8 1013.5a4.6 4.1 0 1 0 9.2 0a4.6 4.1 0 1 0 -9.2 0zM1881.3 1019a4.6 4.1 0 1 0 9.2 0a4.6 4.1 0 1 0 -9.2 0zM1883.7 1025a4.6 4.1 0 1 0 9.2 0a4.6 4.1 0 1 0 -9.2 0zM1886.1 1031.1a4.6 4.1 0 1 0 9.2 0a4.6 4.1 0 1 0 -9.2 0zM1888.5 1036.8a4.6 4.1 0 1 0 9.2 0a4.6 4.1 0 1 0 -9.2 0zM1891 1041.8a4.6 4.1 0 1 0 9.2 0a4.6 4.1 0 1 0 -9.2 0zM1893.4 1045.5a4.6 4.1 0 1 0 9.2 0a4.6 4.1 0 1 0 -9.2 0zM1895.8 1047.5a4.6 4.1 0 1 0 9.2 0a4.6 4.1 0 1 0 -9.2 0zM1898.2 1047.4a4.6 4.1 0 1 0 9.2 0a4.6 4.1 0 1 0 -9.2 0zM1900.7 1045.4a4.6 4.1 0 1 0 9.2 0a4.6 4.1 0 1 0 -9.2 0zM1903.1 1041.9a4.6 4.1 0 1 0 9.2 0a4.6 4.1 0 1 0 -9.2 0zM1905.5 1037.4a4.6 4.1 0 1 0 9.2 0a4.6 4.1 0 1 0 -9.2 0zM1908 1032.4a4.6 4.1 0 1 0 9.2 0a4.6 4.1 0 1 0 -9.2 0zM1910.4 1027.2a4.6 4.1 0 1 0 9.2 0a4.6 4.1 0 1 0 -9.2 0zM1912.8 1022.2a4.6 4.1 0 1 0 9.2 0a4.6 4.1 0 1 0 -9.2 0zM1915.2 1018.1a4.6 4.1 0 1 0 9.2 0a4.6 4.1 0 1 0 -9.2 0zM1917.7 1015a4.6 4.1 0 1 0 9.2 0a4.6 4.1 0 1 0 -9.2 0zM1920.1 1013.6a4.6 4.1 0 1 0 9.2 0a4.6 4.1 0 1 0 -9.2 0zM1922.5 1014.1a4.6 4.1 0 1 0 9.2 0a4.6 4.1 0 1 0 -9.2 0zM1924.9 1016a4.6 4.1 0 1 0 9.2 0a4.6 4.1 0 1 0 -9.2 0zM1927.4 1018.7a4.6 4.1 0 1 0 9.2 0a4.6 4.1 0 1 0 -9.2 0zM1929.8 1021.9a4.6 4.1 0 1 0 9.2 0a4.6 4.1 0 1 0 -9.2 0zM1932.2 1025a4.6 4.1 0 1 0 9.2 0a4.6 4.1 0 1 0 -9.2 0zM1934.6 1028.4a4.6 4.1 0 1 0 9.2 0a4.6 4.1 0 1 0 -9.2 0zM1937.1 1032.5a4.6 4.1 0 1 0 9.2 0a4.6 4.1 0 1 0 -9.2 0zM1939.5 1037a4.6 4.1 0 1 0 9.2 0a4.6 4.1 0 1 0 -9.2 0zM1941.9 1042.1a4.6 4.1 0 1 0 9.2 0a4.6 4.1 0 1 0 -9.2 0zM1944.4 1048.1a4.6 4.1 0 1 0 9.2 0a4.6 4.1 0 1 0 -9.2 0zM1946.8 1055.3a4.6 4.1 0 1 0 9.2 0a4.6 4.1 0 1 0 -9.2 0zM1949.2 1063.2a4.6 4.1 0 1 0 9.2 0a4.6 4.1 0 1 0 -9.2 0zM1951.6 1071a4.6 4.1 0 1 0 9.2 0a4.6 4.1 0 1 0 -9.2 0zM1954.1 1079.4a4.6 4.1 0 1 0 9.2 0a4.6 4.1 0 1 0 -9.2 0zM1956.5 1087.7a4.6 4.1 0 1 0 9.2 0a4.6 4.1 0 1 0 -9.2 0zM1958.9 1096a4.6 4.1 0 1 0 9.2 0a4.6 4.1 0 1 0 -9.2 0zM1961.3 1104a4.6 4.1 0 1 0 9.2 0a4.6 4.1 0 1 0 -9.2 0zM1963.8 1111a4.6 4.1 0 1 0 9.2 0a4.6 4.1 0 1 0 -9.2 0zM1966.2 1117.3a4.6 4.1 0 1 0 9.2 0a4.6 4.1 0 1 0 -9.2 0zM1968.6 1123.4a4.6 4.1 0 1 0 9.2 0a4.6 4.1 0 1 0 -9.2 0zM1971.1 1129.8a4.6 4.1 0 1 0 9.2 0a4.6 4.1 0 1 0 -9.2 0zM1973.5 1136.4a4.6 4.1 0 1 0 9.2 0a4.6 4.1 0 1 0 -9.2 0zM1975.9 1142.2a4.6 4.1 0 1 0 9.2 0a4.6 4.1 0 1 0 -9.2 0zM1978.3 1147.4a4.6 4.1 0 1 0 9.2 0a4.6 4.1 0 1 0 -9.2 0zM1980.8 1152a4.6 4.1 0 1 0 9.2 0a4.6 4.1 0 1 0 -9.2 0zM1982.8 1155.4a4.6 4.1 0 1 0 9.2 0a4.6 4.1 0 1 0 -9.2 0z" fill="#EF4040"/>
<path d="M254.8 953.5l5.5 8h-11zM276.1 887.7l5.5 8h-11zM278.5 827.5l5.5 8h-11zM307.9 772.7l5.5 8h-11zM337 723.4l5.5 8h-11zM365.8 679.1l5.5 8h-11zM395 640l5.5 8h-11zM409.9 604.4l5.5 8h-11zM411.8 575.2l5.5 8h-11zM414.4 548.9l5.5 8h-11zM416.9 527l5.5 8h-11zM419.1 509.1l5.5 8h-11zM421.6 495l5.5 8h-11zM424 484.1l5.5 8h-11zM426.4 475.8l5.5 8h-11zM428.9 471l5.5 8h-11zM431.6 468.8l5.5 8h-11zM434.7 468.5l5.5 8h-11zM438.1 472.4l5.5 8h-11zM441 476.3l5.5 8h-11zM443.5 483.1l5.5 8h-11zM448.3 489.9l5.5 8h-11zM450.8 498.7l5.5 8h-11zM453.4 509l5.5 8h-11zM455.8 519.2l5.5 8h-11zM458.4 528.9l5.5 8h-11zM460.5 538.7l5.5 8h-11zM463 547.9l5.5 8h-11zM465.4 556.2l5.5 8h-11zM467.8 564.5l5.5 8h-11zM469.8 572.3l5.5 8h-11zM472.4 578.6l5.5 8h-11zM475.4 585.4l5.5 8h-11zM477.6 590.5l5.5 8h-11zM480.5 595.4l5.5 8h-11zM482.4 600.5l5.5 8h-11zM484.6 604.6l5.5 8h-11zM487.5 608.3l5.5 8h-11zM489.5 612.4l5.5 8h-11zM492.4 615.3l5.5 8h-11zM494.4 619.2l5.5 8h-11zM497.5 622.6l5.5 8h-11zM499.5 625.6l5.5 8h-11zM502.4 628.7l5.5 8h-11zM504.6 632.4l5.5 8h-11zM507.5 635.5l5.5 8h-11zM509.4 639.4l5.5 8h-11zM511.6 642.6l5.5 8h-11zM514.6 646.2l5.5 8h-11zM516.5 649.4l5.5 8h-11zM518.9 653l5.5 8h-11zM521.4 656.3l5.5 8h-11zM523.8 659.4l5.5 8h-11zM526.2 662.6l5.5 8h-11zM528.6 665.8l5.5 8h-11zM531.1 669l5.5 8h-11zM533.5 672.3l5.5 8h-11zM535.9 675.5l5.5 8h-11zM538.3 678.7l5.5 8h-11zM540.8 682l5.5 8h-11zM543.2 685.3l5.5 8h-11zM545.6 688.5l5.5 8h-11zM548.1 691.7l5.5 8h-11zM550.5 694.8l5.5 8h-11zM552.9 697.9l5.5 8h-11zM555.3 700.8l5.5 8h-11zM557.8 703.7l5.5 8h-11zM560.2 706.6l5.5 8h-11zM562.6 709.4l5.5 8h-11zM565 712l5.5 8h-11zM567.5 714.7l5.5 8h-11zM569.9 717.4l5.5 8h-11zM572.3 720.3l5.5 8h-11zM574.7 723.2l5.5 8h-11zM577.2 726.2l5.5 8h-11zM579.6 729.2l5.5 8h-11zM582 732l5.5 8h-11zM584.5 734.8l5.5 8h-11zM586.9 737.4l5.5 8h-11zM589.3 740l5.5 8h-11zM591.7 742.8l5.5 8h-11zM594.2 745.8l5.5 8h-11zM596.6 749.1l5.5 8h-11zM599 752.6l5.5 8h-11zM601.4 756l5.5 8h-11zM603.9 759.4l5.5 8h-11zM606.3 762.5l5.5 8h-11zM608.7 765.6l5.5 8h-11zM611.2 768.7l5.5 8h-11zM613.6 771.7l5.5 8h-11zM616 774.7l5.5 8h-11zM618.4 777.7l5.5 8h-11zM620.9 780.7l5.5 8h-11zM623.3 783.6l5.5 8h-11zM625.7 786.5l5.5 8h-11zM628.1 789.4l5.5 8h-11zM630.6 792.3l5.5 8h-11zM633 795.2l5.5 8h-11zM635.4 798l5.5 8h-11zM637.9 800.8l5.5 8h-11zM640.3 803.4l5.5 8h-11zM642.7 805.9l5.5 8h-11zM645.1 808.3l5.5 8h-11zM647.6 810.6l5.5 8h-11zM650 812.8l5.5 8h-11zM652.4 815.1l5.5 8h-11zM654.8 817.3l5.5 8h-11zM657.3 819.5l5.5 8h-11zM659.7 821.7l5.5 8h-11zM662.1 823.8l5.5 8h-11zM664.5 826l5.5 8h-11zM667 828.3l5.5 8h-11zM669.4 830.6l5.5 8h-11zM671.8 833l5.5 8h-11zM674.3 835.5l5.5 8h-11zM676.7 838l5.5 8h-11zM679.1 840.5l5.5 8h-11zM681.5 843l5.5 8h-11zM684 845.5l5.5 8h-11zM686.4 848.1l5.5 8h-11zM688.8 850.6l5.5 8h-11zM691.2 853.1l5.5 8h-11zM693.7 855.5l5.5 8h-11zM696.1 857.8l5.5 8h-11zM698.5 860.1l5.5 8h-11zM701 862.4l5.5 8h-11zM703.4 864.5l5.5 8h-11zM705.8 866.4l5.5 8h-11zM708.2 867.9l5.5 8h-11zM710.7 869.5l5.5 8h-11zM713.1 871l5.5 8h-11zM715.5 872.2l5.5 8h-11zM717.9 873.1l5.5 8h-11zM720.4 873.5l5.5 8h-11zM722.8 873.5l5.5 8h-11zM725.2 873.4l5.5 8h-11zM727.6 873.2l5.5 8h-11zM730.1 873l5.5 8h-11zM732.5 872.8l5.5 8h-11zM734.9 872.4l5.5 8h-11zM737.4 871.7l5.5 8h-11zM739.8 870.7l5.5 8h-11zM742.2 869.5l5.5 8h-11zM744.6 868.3l5.5 8h-11zM747.1 867.3l5.5 8h-11zM749.5 866.4l5.5 8h-11zM751.9 865.4l5.5 8h-11zM754.3 864.5l5.5 8h-11zM756.8 863.6l5.5 8h-11zM759.2 862.9l5.5 8h-11zM761.6 862.3l5.5 8h-11zM764.1 861.7l5.5 8h-11zM766.5 861.1l5.5 8h-11zM768.9 860.6l5.5 8h-11zM771.3 860.4l5.5 8h-11zM773.8 860.5l5.5 8h-11zM776.2 861l5.5 8h-11zM778.6 861.8l5.5 8h-11zM781 862.7l5.5 8h-11zM783.5 863.9l5.5 8h-11zM785.9 865l5.5 8h-11zM788.3 866.4l5.5 8h-11zM790.8 868.1l5.5 8h-11zM793.2 870.1l5.5 8h-11zM795.6 872.1l5.5 8h-11zM798 874.1l5.5 8h-11zM800.5 876.3l5.5 8h-11zM802.9 878.5l5.5 8h-11zM805.3 880.8l5.5 8h-11zM807.7 882.9l5.5 8h-11zM810.2 884.9l5.5 8h-11zM812.6 886.8l5.5 8h-11zM815 888.6l5.5 8h-11zM817.4 890.4l5.5 8h-11zM819.9 892.2l5.5 8h-11zM822.3 894l5.5 8h-11zM824.7 895.7l5.5 8h-11zM827.2 897.4l5.5 8h-11zM829.6 899.1l5.5 8h-11zM832 900.6l5.5 8h-11zM834.4 902.1l5.5 8h-11zM836.9 903.5l5.5 8h-11zM839.3 904.9l5.5 8h-11zM841.7 906.2l5.5 8h-11zM844.1 907.6l5.5 8h-11zM846.6 908.8l5.5 8h-11zM849 910.1l5.5 8h-11zM851.4 911.3l5.5 8h-11zM853.9 912.5l5.5 8h-11zM856.3 913.5l5.5 8h-11zM858.7 914.5l5.5 8h-11zM861.1 915.4l5.5 8h-11zM863.6 916.7l5.5 8h-11zM866 918.5l5.5 8h-11zM868.4 920.7l5.5 8h-11zM870.8 923.3l5.5 8h-11zM873.3 926.1l5.5 8h-11zM875.7 928.8l5.5 8h-11zM878.1 931.4l5.5 8h-11zM880.5 934.2l5.5 8h-11zM883 937l5.5 8h-11zM885.4 939.9l5.5 8h-11zM887.8 942.7l5.5 8h-11zM890.3 945.5l5.5 8h-11zM892.7 948.2l5.5 8h-11zM895.1 951l5.5 8h-11zM897.5 953.7l5.5 8h-11zM900 956.3l5.5 8h-11zM902.4 958.9l5.5 8h-11zM904.8 961.3l5.5 8h-11zM907.2 963.6l5.5 8h-11zM909.7 965.9l5.5 8h-11zM912.1 968.1l5.5 8h-11zM914.5 970.2l5.5 8h-11zM917 972.1l5.5 8h-11zM919.4 974.1l5.5 8h-11zM921.8 976.1l5.5 8h-11zM924.2 978l5.5 8h-11zM926.7 979.6l5.5 8h-11zM929.1 981l5.5 8h-11zM931.5 982l5.5 8h-11zM933.9 982.8l5.5 8h-11zM936.4 983.6l5.5 8h-11zM938.8 984.3l5.5 8h-11zM941.2 984.7l5.5 8h-11zM943.7 984.9l5.5 8h-11zM946.1 984.9l5.5 8h-11zM948.5 984.9l5.5 8h-11zM950.9 984.9l5.5 8h-11zM953.4 984.9l5.5 8h-11zM955.8 984.9l5.5 8h-11zM958.2 984.9l5.5 8h-11zM960.6 985.2l5.5 8h-11zM963.1 985.6l5.5 8h-11zM965.5 986.2l5.5 8h-11zM967.9 986.9l5.5 8h-11zM970.3 987.6l5.5 8h-11zM972.8 988.3l5.5 8h-11zM975.2 989l5.5 8h-11zM977.6 989.9l5.5 8h-11zM980.1 990.8l5.5 8h-11zM982.5 991.8l5.5 8h-11zM984.9 992.8l5.5 8h-11zM987.3 994l5.5 8h-11zM989.8 995.4l5.5 8h-11zM992.2 996.7l5.5 8h-11zM994.6 997.9l5.5 8h-11zM997 998.7l5.5 8h-11zM999.5 999.2l5.5 8h-11zM1001.9 999.6l5.5 8h-11zM1004.3 999.9l5.5 8h-11zM1006.8 1000.1l5.5 8h-11zM1009.2 1000.3l5.5 8h-11zM1011.6 1000.6l5.5 8h-11zM1014 1000.8l5.5 8h-11zM1016.5 1001.1l5.5 8h-11zM1018.9 1001.3l5.5 8h-11zM1021.3 1001.4l5.5 8h-11zM1023.7 1001.4l5.5 8h-11zM1026.2 1001.5l5.5 8h-11zM1028.6 1001.5l5.5 8h-11zM1031 1001.5l5.5 8h-11zM1033.5 1001.5l5.5 8h-11zM1035.9 1001.5l5.5 8h-11zM1038.3 1001.3l5.5 8h-11zM1040.7 1001.1l5.5 8h-11zM1043.2 1000.7l5.5 8h-11zM1045.6 1000.3l5.5 8h-11zM1048 999.7l5.5 8h-11zM1050.4 998.8l5.5 8h-11zM1052.9 997.4l5.5 8h-11zM1055.3 995.8l5.5 8h-11zM1057.7 994.3l5.5 8h-11zM1060.1 992.8l5.5 8h-11zM1062.6 991.3l5.5 8h-11zM1065 989.8l5.5 8h-11zM1067.4 988.3l5.5 8h-11zM1069.9 986.9l5.5 8h-11zM1072.3 985.8l5.5 8h-11zM1074.7 984.8l5.5 8h-11zM1077.1 983.9l5.5 8h-11zM1079.6 983.4l5.5 8h-11zM1082 983.4l5.5 8h-11zM1084.4 983.9l5.5 8h-11zM1086.8 984.6l5.5 8h-11zM1089.3 985.5l5.5 8h-11zM1091.7 986.4l5.5 8h-11zM1094.1 987.7l5.5 8h-11zM1096.6 989.2l5.5 8h-11zM1099 990.8l5.5 8h-11zM1101.4 992.3l5.5 8h-11zM1103.8 993.6l5.5 8h-11zM1106.3 994.9l5.5 8h-11zM1108.7 996.1l5.5 8h-11zM1111.1 997.3l5.5 8h-11zM1113.5 998.3l5.5 8h-11zM1116 999.2l5.5 8h-11zM1118.4 1000l5.5 8h-11zM1120.8 1000.6l5.5 8h-11zM1123.2 1001.3l5.5 8h-11zM1125.7 1001.9l5.5 8h-11zM1128.1 1002.6l5.5 8h-11zM1130.5 1003.2l5.5 8h-11zM1133 1003.8l5.5 8h-11zM1135.4 1004.4l5.5 8h-11zM1137.8 1005.1l5.5 8h-11zM1140.2 1005.9l5.5 8h-11zM1142.7 1006.8l5.5 8h-11zM1145.1 1007.8l5.5 8h-11zM1147.5 1008.9l5.5 8h-11zM1149.9 1010.1l5.5 8h-11zM1152.4 1011.3l5.5 8h-11zM1154.8 1012.7l5.5 8h-11zM1157.2 1014.2l5.5 8h-11zM1159.7 1015.8l5.5 8h-11zM1162.1 1017.2l5.5 8h-11zM1164.5 1018.1l5.5 8h-11zM1166.9 1018.7l5.5 8h-11zM1169.4 1019.1l5.5 8h-11zM1171.8 1019.5l5.5 8h-11zM1174.2 1019.7l5.5 8h-11zM1176.6 1019.9l5.5 8h-11zM1179.1 1019.9l5.5 8h-11zM1181.5 1019.9l5.5 8h-11zM1183.9 1019.8l5.5 8h-11zM1186.4 1019.7l5.5 8h-11zM1188.8 1019.6l5.5 8h-11zM1191.2 1019.5l5.5 8h-11zM1193.6 1019.3l5.5 8h-11zM1196.1 1019l5.5 8h-11zM1198.5 1018.7l5.5 8h-11zM1200.9 1018.4l5.5 8h-11zM1203.3 1018.2l5.5 8h-11zM1205.8 1018.1l5.5 8h-11zM1208.2 1018l5.5 8h-11zM1210.6 1017.9l5.5 8h-11zM1213 1017.8l5.5 8h-11zM1215.5 1017.8l5.5 8h-11zM1217.9 1017.7l5.5 8h-11zM1220.3 1017.6l5.5 8h-11zM1222.8 1017.4l5.5 8h-11zM1225.2 1017.3l5.5 8h-11zM1227.6 1017l5.5 8h-11zM1230 1016.7l5.5 8h-11zM1232.5 1016.2l5.5 8h-11zM1234.9 1015.7l5.5 8h-11zM1237.3 1015.2l5.5 8h-11zM1239.7 1014.6l5.5 8h-11zM1242.2 1014l5.5 8h-11zM1244.6 1013.4l5.5 8h-11zM1247 1012.8l5.5 8h-11zM1249.5 1012.3l5.5 8h-11zM1251.9 1011.7l5.5 8h-11zM1254.3 1011.2l5.5 8h-11zM1256.7 1010.7l5.5 8h-11zM1259.2 1010.2l5.5 8h-11zM1261.6 1009.7l5.5 8h-11zM1264 1009.1l5.5 8h-11zM1266.4 1008.6l5.5 8h-11zM1268.9 1008l5.5 8h-11zM1271.3 1007.4l5.5 8h-11zM1273.7 1006.8l5.5 8h-11zM1276.2 1006.1l5.5 8h-11zM1278.6 1005.3l5.5 8h-11zM1281 1004.3l5.5 8h-11zM1283.4 1003.3l5.5 8h-11zM1285.9 1002.4l5.5 8h-11zM1288.3 1001.6l5.5 8h-11zM1290.7 1001l5.5 8h-11zM1293.1 1000.8l5.5 8h-11zM1295.6 1001.1l5.5 8h-11zM1298 1002.1l5.5 8h-11zM1300.4 1003.4l5.5 8h-11zM1302.8 1005.1l5.5 8h-11zM1305.3 1006.7l5.5 8h-11zM1307.7 1008.5l5.5 8h-11zM1310.1 1010.6l5.5 8h-11zM1312.6 1013l5.5 8h-11zM1315 1015.5l5.5 8h-11zM1317.4 1018.1l5.5 8h-11zM1319.8 1020.8l5.5 8h-11zM1322.3 1024l5.5 8h-11zM1324.7 1027.3l5.5 8h-11zM1327.1 1030.1l5.5 8h-11zM1329.5 1032.1l5.5 8h-11zM1332 1032.9l5.5 8h-11zM1334.4 1033.4l5.5 8h-11zM1336.8 1033.7l5.5 8h-11zM1339.3 1033.7l5.5 8h-11zM1341.7 1033.4l5.5 8h-11zM1344.1 1032.8l5.5 8h-11zM1346.5 1032.1l5.5 8h-11zM1349 1031.3l5.5 8h-11zM1351.4 1030l5.5 8h-11zM1353.8 1028l5.5 8h-11zM1356.2 1025.6l5.5 8h-11zM1358.7 1023.1l5.5 8h-11zM1361.1 1021.1l5.5 8h-11zM1363.5 1019.5l5.5 8h-11zM1366 1017.9l5.5 8h-11zM1368.4 1016.5l5.5 8h-11zM1370.8 1015.8l5.5 8h-11zM1373.2 1015.9l5.5 8h-11zM1375.7 1016.7l5.5 8h-11zM1378.1 1018.1l5.5 8h-11zM1380.5 1019.9l5.5 8h-11zM1382.9 1021.7l5.5 8h-11zM1385.4 1023.6l5.5 8h-11zM1387.8 1026l5.5 8h-11zM1390.2 1028.9l5.5 8h-11zM1392.6 1031.9l5.5 8h-11zM1395.1 1035l5.5 8h-11zM1397.5 1038.1l5.5 8h-11zM1399.9 1041.6l5.5 8h-11zM1402.4 1045.3l5.5 8h-11zM1404.8 1048.8l5.5 8h-11zM1407.2 1051.6l5.5 8h-11zM1409.6 1053.5l5.5 8h-11zM1412.1 1055l5.5 8h-11zM1414.5 1056.2l5.5 8h-11zM1416.9 1057.1l5.5 8h-11zM1419.3 1057.3l5.5 8h-11zM1421.8 1056.9l5.5 8h-11zM1424.2 1055.9l5.5 8h-11zM1426.6 1054.6l5.5 8h-11zM1429.1 1053l5.5 8h-11zM1431.5 1051.1l5.5 8h-11zM1433.9 1048l5.5 8h-11zM1436.3 1044.2l5.5 8h-11zM1438.8 1040.2l5.5 8h-11zM1441.2 1036.6l5.5 8h-11zM1443.6 1033.8l5.5 8h-11zM1446 1030.9l5.5 8h-11zM1448.5 1028.1l5.5 8h-11zM1450.9 1025.5l5.5 8h-11zM1453.3 1023.2l5.5 8h-11zM1455.7 1021.7l5.5 8h-11zM1458.2 1020.9l5.5 8h-11zM1460.6 1021.1l5.5 8h-11zM1463 1022.1l5.5 8h-11zM1465.5 1023.5l5.5 8h-11zM1467.9 1025.4l5.5 8h-11zM1470.3 1027.4l5.5 8h-11zM1472.7 1029.9l5.5 8h-11zM1475.2 1033.7l5.5 8h-11zM1477.6 1038.4l5.5 8h-11zM1480 1043.2l5.5 8h-11zM1482.4 1047.7l5.5 8h-11zM1484.9 1051.4l5.5 8h-11zM1487.3 1055.3l5.5 8h-11zM1489.7 1059.3l5.5 8h-11zM1492.2 1063.1l5.5 8h-11zM1494.6 1066.2l5.5 8h-11zM1497 1068.5l5.5 8h-11zM1499.4 1069.4l5.5 8h-11zM1501.9 1069.1l5.5 8h-11zM1504.3 1068.1l5.5 8h-11zM1506.7 1066.6l5.5 8h-11zM1509.1 1064.6l5.5 8h-11zM1511.6 1062.3l5.5 8h-11zM1514 1059.8l5.5 8h-11zM1516.4 1056.6l5.5 8h-11zM1518.9 1051.7l5.5 8h-11zM1521.3 1045.7l5.5 8h-11zM1523.7 1039.6l5.5 8h-11zM1526.1 1034.1l5.5 8h-11zM1528.6 1029.7l5.5 8h-11zM1531 1025l5.5 8h-11zM1533.4 1020.2l5.5 8h-11zM1535.8 1015.7l5.5 8h-11zM1538.3 1011.9l5.5 8h-11zM1540.7 1009l5.5 8h-11zM1543.1 1007.3l5.5 8h-11zM1545.5 1007.1l5.5 8h-11zM1548 1008.1l5.5 8h-11zM1550.4 1010.1l5.5 8h-11zM1552.8 1012.6l5.5 8h-11zM1555.3 1015.7l5.5 8h-11zM1557.7 1018.8l5.5 8h-11zM1560.1 1022.8l5.5 8h-11zM1562.5 1028.4l5.5 8h-11zM1565 1034.9l5.5 8h-11zM1567.4 1041.4l5.5 8h-11zM1569.8 1047.1l5.5 8h-11zM1572.2 1051.7l5.5 8h-11zM1574.7 1056.6l5.5 8h-11zM1577.1 1061.4l5.5 8h-11zM1579.5 1066l5.5 8h-11zM1582 1070.1l5.5 8h-11zM1584.4 1073.3l5.5 8h-11zM1586.8 1075.4l5.5 8h-11zM1589.2 1076.2l5.5 8h-11zM1591.7 1075.7l5.5 8h-11zM1594.1 1074.5l5.5 8h-11zM1596.5 1072.7l5.5 8h-11zM1598.9 1070.5l5.5 8h-11zM1601.4 1068.2l5.5 8h-11zM1603.8 1065.4l5.5 8h-11zM1606.2 1061.6l5.5 8h-11zM1608.7 1057.1l5.5 8h-11zM1611.1 1052.4l5.5 8h-11zM1613.5 1048.1l5.5 8h-11zM1615.9 1044.5l5.5 8h-11zM1618.4 1041.7l5.5 8h-11zM1620.8 1038.9l5.5 8h-11zM1623.2 1036.2l5.5 8h-11zM1625.6 1033.7l5.5 8h-11zM1628.1 1031.6l5.5 8h-11zM1630.5 1029.9l5.5 8h-11zM1632.9 1028.8l5.5 8h-11zM1635.3 1028.4l5.5 8h-11zM1637.8 1028.7l5.5 8h-11zM1640.2 1029.6l5.5 8h-11zM1642.6 1030.9l5.5 8h-11zM1645.1 1032.6l5.5 8h-11zM1647.5 1034.5l5.5 8h-11zM1649.9 1036.7l5.5 8h-11zM1652.3 1039.2l5.5 8h-11zM1654.8 1043.2l5.5 8h-11zM1657.2 1048.6l5.5 8h-11zM1659.6 1054.6l5.5 8h-11zM1662 1060.5l5.5 8h-11zM1664.5 1065.5l5.5 8h-11zM1666.9 1070.4l5.5 8h-11zM1669.3 1075.4l5.5 8h-11zM1671.8 1080l5.5 8h-11zM1674.2 1084l5.5 8h-11zM1676.6 1086.9l5.5 8h-11zM1679 1089.4l5.5 8h-11zM1681.5 1091.7l5.5 8h-11zM1683.9 1093.7l5.5 8h-11zM1686.3 1095l5.5 8h-11zM1688.7 1095.5l5.5 8h-11zM1691.2 1095.3l5.5 8h-11zM1693.6 1094.6l5.5 8h-11zM1696 1093.7l5.5 8h-11zM1698.4 1092.5l5.5 8h-11zM1700.9 1091.3l5.5 8h-11zM1703.3 1090l5.5 8h-11zM1705.7 1088.3l5.5 8h-11zM1708.2 1086.2l5.5 8h-11zM1710.6 1083.8l5.5 8h-11zM1713 1081.5l5.5 8h-11zM1715.4 1079.4l5.5 8h-11zM1717.9 1077.9l5.5 8h-11zM1720.3 1076.4l5.5 8h-11zM1722.7 1074.9l5.5 8h-11zM1725.1 1073.7l5.5 8h-11zM1727.6 1072.9l5.5 8h-11zM1730 1072.5l5.5 8h-11zM1732.4 1072.5l5.5 8h-11zM1734.9 1072.6l5.5 8h-11zM1737.3 1072.7l5.5 8h-11zM1739.7 1072.7l5.5 8h-11zM1742.1 1072.8l5.5 8h-11zM1744.6 1072.8l5.5 8h-11zM1747 1072.8l5.5 8h-11zM1749.4 1072.8l5.5 8h-11zM1751.8 1072.8l5.5 8h-11zM1754.3 1072.8l5.5 8h-11zM1756.7 1072.8l5.5 8h-11zM1759.1 1072.6l5.5 8h-11zM1761.6 1072.1l5.5 8h-11zM1764 1071.4l5.5 8h-11zM1766.4 1070.6l5.5 8h-11zM1768.8 1069.8l5.5 8h-11zM1771.3 1069.2l5.5 8h-11zM1773.7 1068.4l5.5 8h-11zM1776.1 1067.7l5.5 8h-11zM1778.5 1066.9l5.5 8h-11zM1781 1066.1l5.5 8h-11zM1783.4 1065.5l5.5 8h-11zM1785.8 1064.9l5.5 8h-11zM1788.2 1064.6l5.5 8h-11zM1790.7 1064.5l5.5 8h-11zM1793.1 1064.7l5.5 8h-11zM1795.5 1065.1l5.5 8h-11zM1798 1065.8l5.5 8h-11zM1800.4 1066.5l5.5 8h-11zM1802.8 1067.4l5.5 8h-11zM1805.2 1068.5l5.5 8h-11zM1807.7 1070l5.5 8h-11zM1810.1 1072l5.5 8h-11zM1812.5 1074.4l5.5 8h-11zM1814.9 1076.9l5.5 8h-11zM1817.4 1079.4l5.5 8h-11zM1819.8 1082.1l5.5 8h-11zM1822.2 1085.1l5.5 8h-11zM1824.7 1088.3l5.5 8h-11zM1827.1 1091.6l5.5 8h-11zM1829.5 1095.1l5.5 8h-11zM1831.9 1098.6l5.5 8h-11zM1834.4 1102.6l5.5 8h-11zM1836.8 1106.9l5.5 8h-11zM1839.2 1111.1l5.5 8h-11zM1841.6 1114.7l5.5 8h-11zM1844.1 1117.5l5.5 8h-11zM1846.5 1119.7l5.5 8h-11zM1848.9 1121.9l5.5 8h-11zM1851.3 1123.7l5.5 8h-11zM1853.8 1125l5.5 8h-11zM1856.2 1125.4l5.5 8h-11zM1858.6 1124.9l5.5 8h-11zM1861.1 1123.6l5.5 8h-11zM1863.5 1121.7l5.5 8h-11zM1865.9 1119.5l5.5 8h-11zM1868.3 1117.1l5.5 8h-11zM1870.8 1114.7l5.5 8h-11zM1873.2 1112.3l5.5 8h-11zM1875.6 1109.4l5.5 8h-11zM1878 1106.3l5.5 8h-11zM1880.5 1102.9l5.5 8h-11zM1882.9 1099.3l5.5 8h-11zM1885.3 1095.5l5.5 8h-11zM1887.8 1091.1l5.5 8h-11zM1890.2 1086.4l5.5 8h-11zM1892.6 1081.5l5.5 8h-11zM1895 1076.6l5.5 8h-11zM1897.5 1072l5.5 8h-11zM1899.9 1067.7l5.5 8h-11zM1902.3 1063.2l5.5 8h-11zM1904.7 1058.9l5.5 8h-11zM1907.2 1054.9l5.5 8h-11zM1909.6 1051.4l5.5 8h-11zM1912 1048.3l5.5 8h-11zM1914.5 1045.3l5.5 8h-11zM1916.9 1042.3l5.5 8h-11zM1919.3 1039.4l5.5 8h-11zM1921.7 1036.9l5.5 8h-11zM1924.2 1034.8l5.5 8h-11zM1926.6 1033.4l5.5 8h-11zM1929 1032.7l5.5 8h-11zM1931.4 1033.1l5.5 8h-11zM1933.9 1034.4l5.5 8h-11zM1936.3 1036.4l5.5 8h-11zM1938.7 1038.8l5.5 8h-11zM1941.1 1041.2l5.5 8h-11zM1943.6 1043.5l5.5 8h-11zM1946 1046.3l5.5 8h-11zM1948.4 1049.3l5.5 8h-11zM1950.9 1052.5l5.5 8h-11zM1953.3 1055.9l5.5 8h-11zM1955.7 1059.4l5.5 8h-11zM1958.1 1063.4l5.5 8h-11zM1960.6 1067.5l5.5 8h-11zM1963 1071.8l5.5 8h-11zM1965.4 1075.9l5.5 8h-11zM1967.8 1080l5.5 8h-11zM1970.3 1084.2l5.5 8h-11zM1972.7 1088.3l5.5 8h-11zM1975.1 1092.4l5.5 8h-11zM1977.6 1096.3l5.5 8h-11zM1980 1100l5.5 8h-11zM1982.4 1103.5l5.5 8h-11zM1984.8 1107l5.5 8h-11zM1986.7 1109.5l5.5 8h-11z" fill="#0000FF"/>
</g>
<g font-size="66.5" font-weight="bold" fill="#fff">
<g transform="translate(257.7 324) scale(1.034 1)"><text>C1, 70</text><rect x="51" y="-8" width="12.4" height="9.2"/><rect x="72.8" y="-8" width="11.7" height="9.2"/></g><text transform="translate(478 319) scale(1.034 1)">°</text><text transform="translate(504 324) scale(1.034 1)">C</text><g transform="translate(426.8 452.1) scale(1.034 1)"><text>S-C1-a, 70</text><rect x="117.5" y="-8" width="12.4" height="9.2"/><rect x="139.3" y="-8" width="11.7" height="9.2"/></g><text transform="translate(770.5 447) scale(1.034 1)">°</text><text transform="translate(795.8 452.1) scale(1.034 1)">C</text><g transform="translate(732.6 773.4) scale(1.034 1)"><text>S-C1-a, 50</text><rect x="117.5" y="-8" width="12.4" height="9.2"/><rect x="139.3" y="-8" width="11.7" height="9.2"/></g><text transform="translate(1082.8 768.2) scale(1.034 1)">°</text><text transform="translate(1108.2 773.4) scale(1.034 1)">C</text>
</g>
</svg>
</body></html>
